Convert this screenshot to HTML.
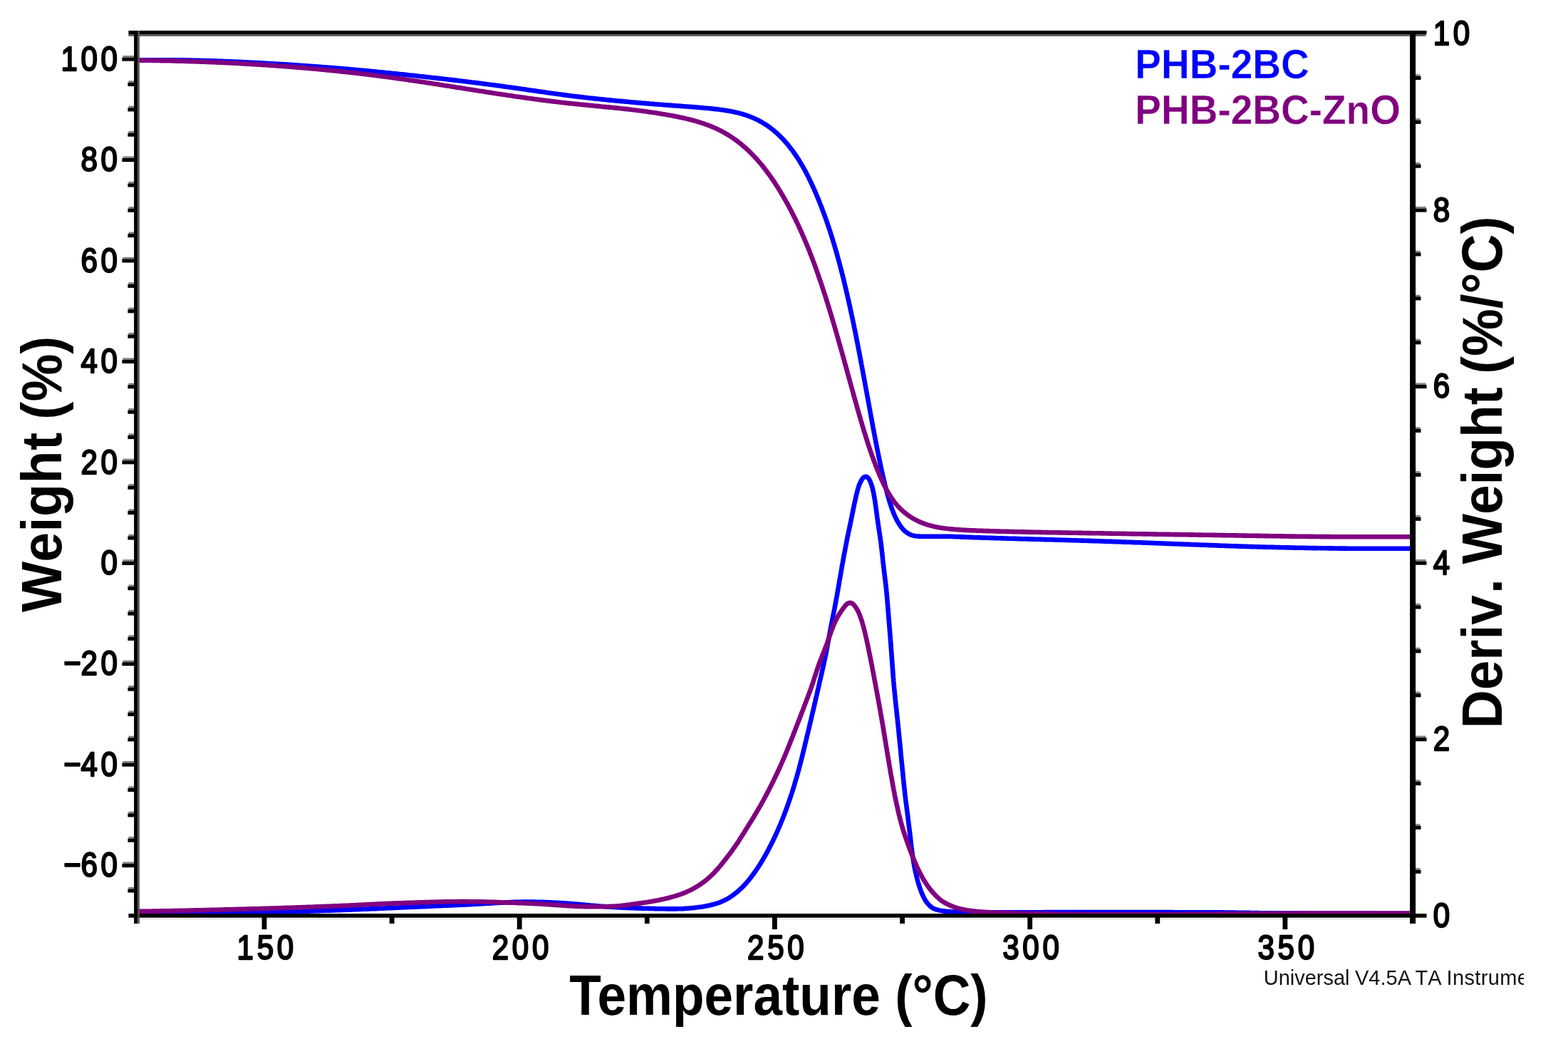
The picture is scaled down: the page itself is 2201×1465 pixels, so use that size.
<!DOCTYPE html>
<html lang="en">
<head>
<meta charset="utf-8">
<title>TGA: PHB-2BC vs PHB-2BC-ZnO</title>
<style>
html,body{margin:0;padding:0;background:#fff;}
body{width:2201px;height:1465px;overflow:hidden;}
svg{display:block;}
text{font-family:"Liberation Sans",sans-serif;}
.tick{font-weight:normal;font-size:49.5px;fill:#000;stroke:#000;stroke-width:2.35px;stroke-linejoin:round;letter-spacing:5.5px;}
.axl{font-weight:bold;font-size:75px;fill:#000;}
.leg{font-weight:bold;font-size:55px;stroke:#fff;stroke-width:0.4px;}
.foot{font-size:29px;fill:#111;font-kerning:none;}
.curve{fill:none;stroke-width:6.6;stroke-linejoin:round;stroke-linecap:butt;}
.ax{fill:none;stroke:#000;}
</style>
</head>
<body>
<svg width="2201" height="1465" viewBox="0 0 2201 1465">
<rect x="0" y="0" width="2201" height="1465" fill="#ffffff"/>
<defs><clipPath id="plot"><rect x="191.9" y="47.0" width="1791.1" height="1240.6"/></clipPath></defs>
<g clip-path="url(#plot)">
<path class="curve" stroke="#0000ff" d="M191.9,84.3 L193.9,84.3 L195.9,84.3 L197.9,84.3 L199.9,84.3 L201.9,84.3 L203.9,84.3 L205.9,84.3 L207.9,84.3 L209.9,84.3 L211.9,84.3 L213.9,84.3 L215.9,84.3 L217.9,84.3 L219.9,84.3 L221.9,84.3 L223.9,84.3 L225.9,84.3 L227.9,84.3 L229.9,84.3 L231.9,84.3 L233.9,84.3 L235.9,84.3 L237.9,84.3 L239.9,84.3 L241.9,84.3 L243.9,84.3 L245.9,84.3 L247.9,84.3 L249.9,84.3 L251.9,84.3 L253.9,84.4 L255.9,84.4 L257.9,84.4 L259.9,84.5 L261.9,84.5 L263.9,84.5 L265.9,84.6 L267.9,84.6 L269.9,84.7 L271.9,84.7 L273.9,84.8 L275.9,84.8 L277.9,84.9 L279.9,84.9 L281.9,85.0 L283.9,85.0 L285.9,85.1 L287.9,85.1 L289.9,85.2 L291.9,85.3 L293.9,85.3 L295.9,85.4 L297.9,85.4 L299.9,85.5 L301.9,85.6 L303.9,85.6 L305.9,85.7 L307.9,85.8 L309.9,85.9 L311.9,85.9 L313.9,86.0 L315.9,86.1 L317.9,86.2 L319.9,86.3 L321.9,86.3 L323.9,86.4 L325.9,86.5 L327.9,86.6 L329.9,86.7 L331.9,86.8 L333.9,86.8 L335.9,86.9 L337.9,87.0 L339.9,87.1 L341.8,87.2 L343.8,87.3 L345.8,87.4 L347.8,87.5 L349.8,87.6 L351.8,87.7 L353.8,87.8 L355.8,87.9 L357.8,88.0 L359.8,88.1 L361.8,88.2 L363.8,88.3 L365.8,88.4 L367.8,88.5 L369.8,88.6 L371.8,88.7 L373.8,88.9 L375.8,89.0 L377.8,89.1 L379.8,89.2 L381.8,89.3 L383.8,89.4 L385.8,89.5 L387.8,89.7 L389.8,89.8 L391.8,89.9 L393.8,90.0 L395.8,90.1 L397.8,90.3 L399.8,90.4 L401.8,90.5 L403.8,90.6 L405.8,90.8 L407.7,90.9 L409.7,91.0 L411.7,91.1 L413.7,91.3 L415.7,91.4 L417.7,91.5 L419.7,91.7 L421.7,91.8 L423.7,92.0 L425.7,92.1 L427.7,92.2 L429.7,92.4 L431.7,92.5 L433.7,92.7 L435.7,92.8 L437.7,93.0 L439.7,93.1 L441.7,93.2 L443.7,93.4 L445.7,93.5 L447.6,93.7 L449.6,93.8 L451.6,94.0 L453.6,94.2 L455.6,94.3 L457.6,94.5 L459.6,94.6 L461.6,94.8 L463.6,94.9 L465.6,95.1 L467.6,95.3 L469.6,95.4 L471.6,95.6 L473.6,95.8 L475.6,95.9 L477.6,96.1 L479.5,96.3 L481.5,96.4 L483.5,96.6 L485.5,96.8 L487.5,96.9 L489.5,97.1 L491.5,97.3 L493.5,97.5 L495.5,97.6 L497.5,97.8 L499.5,98.0 L501.5,98.2 L503.5,98.3 L505.4,98.5 L507.4,98.7 L509.4,98.9 L511.4,99.1 L513.4,99.3 L515.4,99.4 L517.4,99.6 L519.4,99.8 L521.4,100.0 L523.4,100.2 L525.4,100.4 L527.3,100.6 L529.3,100.8 L531.3,101.0 L533.3,101.2 L535.3,101.4 L537.3,101.6 L539.3,101.8 L541.3,102.0 L543.3,102.2 L545.3,102.4 L547.3,102.6 L549.2,102.8 L551.2,103.0 L553.2,103.2 L555.2,103.4 L557.2,103.6 L559.2,103.8 L561.2,104.0 L563.2,104.2 L565.2,104.4 L567.1,104.6 L569.1,104.8 L571.1,105.0 L573.1,105.3 L575.1,105.5 L577.1,105.7 L579.1,105.9 L581.1,106.1 L583.1,106.3 L585.0,106.5 L587.0,106.8 L589.0,107.0 L591.0,107.2 L593.0,107.4 L595.0,107.6 L597.0,107.9 L599.0,108.1 L600.9,108.3 L602.9,108.5 L604.9,108.7 L606.9,109.0 L608.9,109.2 L610.9,109.4 L612.9,109.6 L614.9,109.9 L616.8,110.1 L618.8,110.3 L620.8,110.5 L622.8,110.8 L624.8,111.0 L626.8,111.2 L628.8,111.4 L630.8,111.7 L632.7,111.9 L634.7,112.1 L636.7,112.4 L638.7,112.6 L640.7,112.8 L642.7,113.1 L644.7,113.3 L646.6,113.5 L648.6,113.8 L650.6,114.0 L652.6,114.2 L654.6,114.5 L656.6,114.7 L658.6,115.0 L660.5,115.2 L662.5,115.5 L664.5,115.7 L666.5,115.9 L668.5,116.2 L670.5,116.4 L672.5,116.7 L674.4,116.9 L676.4,117.2 L678.4,117.4 L680.4,117.7 L682.4,118.0 L684.4,118.2 L686.3,118.5 L688.3,118.7 L690.3,119.0 L692.3,119.3 L694.3,119.5 L696.3,119.8 L698.2,120.1 L700.2,120.3 L702.2,120.6 L704.2,120.9 L706.2,121.1 L708.1,121.4 L710.1,121.7 L712.1,122.0 L714.1,122.2 L716.1,122.5 L718.0,122.8 L720.0,123.1 L722.0,123.4 L724.0,123.6 L726.0,123.9 L727.9,124.2 L729.9,124.5 L731.9,124.8 L733.9,125.1 L735.9,125.3 L737.8,125.6 L739.8,125.9 L741.8,126.2 L743.8,126.5 L745.8,126.8 L747.7,127.1 L749.7,127.3 L751.7,127.6 L753.7,127.9 L755.7,128.2 L757.6,128.5 L759.6,128.8 L761.6,129.0 L763.6,129.3 L765.6,129.6 L767.5,129.9 L769.5,130.2 L771.5,130.4 L773.5,130.7 L775.5,131.0 L777.4,131.3 L779.4,131.5 L781.4,131.8 L783.4,132.1 L785.4,132.3 L787.4,132.6 L789.3,132.9 L791.3,133.1 L793.3,133.4 L795.3,133.6 L797.3,133.9 L799.3,134.2 L801.2,134.4 L803.2,134.7 L805.2,134.9 L807.2,135.2 L809.2,135.4 L811.2,135.6 L813.1,135.9 L815.1,136.1 L817.1,136.3 L819.1,136.6 L821.1,136.8 L823.1,137.0 L825.1,137.3 L827.1,137.5 L829.0,137.7 L831.0,137.9 L833.0,138.1 L835.0,138.4 L837.0,138.6 L839.0,138.8 L841.0,139.0 L843.0,139.2 L845.0,139.4 L846.9,139.6 L848.9,139.8 L850.9,140.0 L852.9,140.2 L854.9,140.4 L856.9,140.6 L858.9,140.8 L860.9,141.0 L862.9,141.2 L864.9,141.4 L866.8,141.5 L868.8,141.7 L870.8,141.9 L872.8,142.1 L874.8,142.3 L876.8,142.5 L878.8,142.6 L880.8,142.8 L882.8,143.0 L884.8,143.2 L886.8,143.4 L888.8,143.5 L890.8,143.7 L892.7,143.9 L894.7,144.1 L896.7,144.2 L898.7,144.4 L900.7,144.6 L902.7,144.7 L904.7,144.9 L906.7,145.1 L908.7,145.2 L910.7,145.4 L912.7,145.6 L914.7,145.7 L916.7,145.9 L918.7,146.1 L920.6,146.2 L922.6,146.4 L924.6,146.5 L926.6,146.7 L928.6,146.8 L930.6,147.0 L932.6,147.2 L934.6,147.3 L936.6,147.5 L938.6,147.6 L940.6,147.8 L942.6,147.9 L944.6,148.1 L946.6,148.2 L948.6,148.4 L950.6,148.5 L952.6,148.6 L954.5,148.8 L956.5,148.9 L958.5,149.1 L960.5,149.2 L962.5,149.4 L964.5,149.5 L966.5,149.7 L968.5,149.8 L970.5,150.0 L972.5,150.1 L974.5,150.3 L976.5,150.5 L978.5,150.6 L980.5,150.8 L982.5,151.0 L984.5,151.1 L986.4,151.3 L988.4,151.5 L990.4,151.7 L992.4,151.8 L994.4,152.0 L996.4,152.2 L998.4,152.4 L1000.4,152.6 L1002.4,152.9 L1004.4,153.1 L1006.3,153.3 L1008.3,153.5 L1010.3,153.8 L1012.3,154.1 L1014.3,154.3 L1016.3,154.6 L1018.2,154.9 L1020.2,155.2 L1022.2,155.6 L1024.2,155.9 L1026.1,156.3 L1028.1,156.6 L1030.0,157.0 L1032.0,157.5 L1034.0,157.9 L1035.9,158.4 L1037.8,158.9 L1039.8,159.4 L1041.7,159.9 L1043.6,160.5 L1045.5,161.1 L1047.4,161.7 L1049.3,162.4 L1051.2,163.0 L1053.1,163.8 L1054.9,164.5 L1056.8,165.3 L1058.6,166.1 L1060.4,166.9 L1062.2,167.8 L1064.0,168.6 L1065.8,169.6 L1067.5,170.5 L1069.3,171.5 L1071.0,172.5 L1072.7,173.6 L1074.4,174.6 L1076.1,175.7 L1077.7,176.8 L1079.4,178.0 L1081.0,179.2 L1082.6,180.4 L1084.2,181.6 L1085.7,182.9 L1087.3,184.1 L1088.8,185.4 L1090.3,186.8 L1091.8,188.1 L1093.2,189.5 L1094.7,190.9 L1096.1,192.3 L1097.5,193.7 L1098.9,195.1 L1100.2,196.6 L1101.6,198.1 L1102.9,199.6 L1104.2,201.1 L1105.5,202.6 L1106.8,204.2 L1108.0,205.7 L1109.3,207.3 L1110.5,208.9 L1111.7,210.5 L1112.9,212.1 L1114.1,213.7 L1115.2,215.3 L1116.4,217.0 L1117.5,218.6 L1118.6,220.3 L1119.7,222.0 L1120.8,223.6 L1121.8,225.3 L1122.9,227.0 L1123.9,228.8 L1124.9,230.5 L1125.9,232.2 L1126.9,233.9 L1127.9,235.7 L1128.9,237.4 L1129.9,239.2 L1130.8,240.9 L1131.7,242.7 L1132.7,244.5 L1133.6,246.3 L1134.5,248.0 L1135.4,249.8 L1136.2,251.6 L1137.1,253.4 L1138.0,255.2 L1138.8,257.0 L1139.7,258.9 L1140.5,260.7 L1141.3,262.5 L1142.2,264.3 L1143.0,266.1 L1143.8,268.0 L1144.6,269.8 L1145.4,271.6 L1146.1,273.5 L1146.9,275.3 L1147.7,277.2 L1148.5,279.0 L1149.2,280.9 L1150.0,282.7 L1150.7,284.6 L1151.4,286.5 L1152.2,288.3 L1152.9,290.2 L1153.6,292.0 L1154.3,293.9 L1155.0,295.8 L1155.7,297.7 L1156.4,299.5 L1157.1,301.4 L1157.8,303.3 L1158.5,305.2 L1159.2,307.1 L1159.8,308.9 L1160.5,310.8 L1161.1,312.7 L1161.8,314.6 L1162.4,316.5 L1163.1,318.4 L1163.7,320.3 L1164.3,322.2 L1165.0,324.1 L1165.6,326.0 L1166.2,327.9 L1166.8,329.8 L1167.4,331.7 L1168.0,333.6 L1168.6,335.5 L1169.2,337.4 L1169.7,339.4 L1170.3,341.3 L1170.9,343.2 L1171.5,345.1 L1172.0,347.0 L1172.6,348.9 L1173.2,350.9 L1173.7,352.8 L1174.3,354.7 L1174.8,356.6 L1175.3,358.6 L1175.9,360.5 L1176.4,362.4 L1176.9,364.3 L1177.5,366.3 L1178.0,368.2 L1178.5,370.1 L1179.0,372.1 L1179.5,374.0 L1180.0,375.9 L1180.5,377.9 L1181.0,379.8 L1181.5,381.7 L1182.0,383.7 L1182.5,385.6 L1183.0,387.6 L1183.5,389.5 L1184.0,391.4 L1184.4,393.4 L1184.9,395.3 L1185.4,397.3 L1185.8,399.2 L1186.3,401.2 L1186.8,403.1 L1187.2,405.1 L1187.7,407.0 L1188.1,409.0 L1188.6,410.9 L1189.0,412.8 L1189.5,414.8 L1189.9,416.7 L1190.4,418.7 L1190.8,420.7 L1191.3,422.6 L1191.7,424.6 L1192.1,426.5 L1192.6,428.5 L1193.0,430.4 L1193.4,432.4 L1193.8,434.3 L1194.3,436.3 L1194.7,438.2 L1195.1,440.2 L1195.5,442.1 L1195.9,444.1 L1196.4,446.1 L1196.8,448.0 L1197.2,450.0 L1197.6,451.9 L1198.0,453.9 L1198.4,455.8 L1198.8,457.8 L1199.2,459.8 L1199.6,461.7 L1200.0,463.7 L1200.4,465.6 L1200.8,467.6 L1201.2,469.6 L1201.6,471.5 L1202.0,473.5 L1202.3,475.5 L1202.7,477.4 L1203.1,479.4 L1203.5,481.3 L1203.9,483.3 L1204.3,485.3 L1204.6,487.2 L1205.0,489.2 L1205.4,491.2 L1205.8,493.1 L1206.2,495.1 L1206.5,497.0 L1206.9,499.0 L1207.3,501.0 L1207.7,502.9 L1208.0,504.9 L1208.4,506.9 L1208.8,508.8 L1209.1,510.8 L1209.5,512.8 L1209.9,514.7 L1210.2,516.7 L1210.6,518.7 L1211.0,520.6 L1211.3,522.6 L1211.7,524.6 L1212.1,526.5 L1212.4,528.5 L1212.8,530.5 L1213.2,532.4 L1213.5,534.4 L1213.9,536.4 L1214.3,538.3 L1214.6,540.3 L1215.0,542.3 L1215.3,544.2 L1215.7,546.2 L1216.1,548.2 L1216.4,550.1 L1216.8,552.1 L1217.1,554.1 L1217.5,556.0 L1217.9,558.0 L1218.2,560.0 L1218.6,561.9 L1218.9,563.9 L1219.3,565.9 L1219.7,567.8 L1220.0,569.8 L1220.4,571.8 L1220.7,573.7 L1221.1,575.7 L1221.5,577.7 L1221.8,579.6 L1222.2,581.6 L1222.5,583.6 L1222.9,585.5 L1223.3,587.5 L1223.6,589.5 L1224.0,591.4 L1224.3,593.4 L1224.7,595.4 L1225.1,597.3 L1225.4,599.3 L1225.8,601.3 L1226.2,603.2 L1226.5,605.2 L1226.9,607.2 L1227.3,609.1 L1227.7,611.1 L1228.0,613.1 L1228.4,615.0 L1228.8,617.0 L1229.2,619.0 L1229.5,620.9 L1229.9,622.9 L1230.3,624.9 L1230.7,626.8 L1231.1,628.8 L1231.5,630.7 L1231.9,632.7 L1232.3,634.7 L1232.7,636.6 L1233.1,638.6 L1233.5,640.5 L1233.9,642.5 L1234.3,644.5 L1234.7,646.4 L1235.1,648.4 L1235.5,650.3 L1235.9,652.3 L1236.3,654.2 L1236.7,656.2 L1237.2,658.2 L1237.6,660.1 L1238.0,662.1 L1238.5,664.0 L1238.9,666.0 L1239.4,667.9 L1239.8,669.9 L1240.3,671.8 L1240.7,673.8 L1241.2,675.7 L1241.6,677.6 L1242.1,679.6 L1242.6,681.5 L1243.1,683.5 L1243.6,685.4 L1244.1,687.4 L1244.6,689.3 L1245.1,691.2 L1245.6,693.2 L1246.1,695.1 L1246.7,697.0 L1247.2,698.9 L1247.8,700.8 L1248.3,702.8 L1248.9,704.7 L1249.5,706.6 L1250.2,708.5 L1250.8,710.4 L1251.4,712.3 L1252.1,714.2 L1252.8,716.0 L1253.5,717.9 L1254.3,719.8 L1255.0,721.6 L1255.8,723.4 L1256.7,725.3 L1257.5,727.1 L1258.4,728.9 L1259.3,730.6 L1260.3,732.4 L1261.3,734.1 L1262.4,735.8 L1263.5,737.5 L1264.6,739.1 L1265.8,740.7 L1267.1,742.2 L1268.5,743.7 L1269.9,745.1 L1271.5,746.3 L1273.1,747.5 L1274.8,748.6 L1276.5,749.6 L1278.3,750.4 L1280.2,751.1 L1282.2,751.6 L1284.1,752.0 L1286.1,752.3 L1288.1,752.5 L1290.1,752.6 L1292.1,752.7 L1294.1,752.7 L1296.1,752.8 L1298.1,752.8 L1300.1,752.8 L1302.1,752.8 L1304.1,752.8 L1306.1,752.8 L1308.1,752.8 L1310.1,752.8 L1312.1,752.8 L1314.1,752.8 L1316.1,752.8 L1318.1,752.8 L1320.1,752.8 L1322.1,752.8 L1324.1,752.8 L1326.1,752.8 L1328.1,752.8 L1330.1,752.8 L1332.1,752.8 L1334.1,752.8 L1336.1,752.9 L1338.1,753.0 L1340.1,753.1 L1342.1,753.2 L1344.1,753.3 L1346.1,753.3 L1348.1,753.4 L1350.1,753.5 L1352.1,753.6 L1354.1,753.6 L1356.1,753.7 L1358.1,753.8 L1360.1,753.9 L1362.1,753.9 L1364.0,754.0 L1366.0,754.1 L1368.0,754.2 L1370.0,754.2 L1372.0,754.3 L1374.0,754.4 L1376.0,754.4 L1378.0,754.5 L1380.0,754.6 L1382.0,754.6 L1384.0,754.7 L1386.0,754.8 L1388.0,754.8 L1390.0,754.9 L1392.0,754.9 L1394.0,755.0 L1396.0,755.1 L1398.0,755.1 L1400.0,755.2 L1402.0,755.2 L1404.0,755.3 L1406.0,755.4 L1408.0,755.4 L1410.0,755.5 L1412.0,755.5 L1414.0,755.6 L1416.0,755.7 L1418.0,755.7 L1420.0,755.8 L1422.0,755.8 L1424.0,755.9 L1426.0,755.9 L1428.0,756.0 L1430.0,756.1 L1432.0,756.1 L1434.0,756.2 L1436.0,756.2 L1438.0,756.3 L1440.0,756.3 L1442.0,756.4 L1444.0,756.4 L1446.0,756.5 L1448.0,756.6 L1450.0,756.6 L1452.0,756.7 L1454.0,756.7 L1456.0,756.8 L1458.0,756.8 L1460.0,756.9 L1462.0,756.9 L1464.0,757.0 L1466.0,757.1 L1468.0,757.1 L1470.0,757.2 L1472.0,757.2 L1474.0,757.3 L1476.0,757.3 L1478.0,757.4 L1480.0,757.5 L1482.0,757.5 L1484.0,757.6 L1486.0,757.6 L1488.0,757.7 L1490.0,757.7 L1492.0,757.8 L1494.0,757.9 L1496.0,757.9 L1498.0,758.0 L1500.0,758.0 L1502.0,758.1 L1504.0,758.2 L1506.0,758.2 L1508.0,758.3 L1510.0,758.3 L1512.0,758.4 L1514.0,758.5 L1516.0,758.5 L1518.0,758.6 L1520.0,758.6 L1522.0,758.7 L1524.0,758.8 L1526.0,758.8 L1528.0,758.9 L1530.0,758.9 L1532.0,759.0 L1534.0,759.1 L1536.0,759.1 L1538.0,759.2 L1540.0,759.3 L1542.0,759.3 L1544.0,759.4 L1546.0,759.5 L1548.0,759.5 L1550.0,759.6 L1552.0,759.7 L1554.0,759.7 L1556.0,759.8 L1558.0,759.9 L1560.0,759.9 L1562.0,760.0 L1564.0,760.1 L1566.0,760.1 L1568.0,760.2 L1570.0,760.3 L1572.0,760.3 L1574.0,760.4 L1575.9,760.5 L1577.9,760.6 L1579.9,760.6 L1581.9,760.7 L1583.9,760.8 L1585.9,760.8 L1587.9,760.9 L1589.9,761.0 L1591.9,761.1 L1593.9,761.1 L1595.9,761.2 L1597.9,761.3 L1599.9,761.3 L1601.9,761.4 L1603.9,761.5 L1605.9,761.6 L1607.9,761.6 L1609.9,761.7 L1611.9,761.8 L1613.9,761.9 L1615.9,761.9 L1617.9,762.0 L1619.9,762.1 L1621.9,762.2 L1623.9,762.2 L1625.9,762.3 L1627.9,762.4 L1629.9,762.5 L1631.9,762.5 L1633.9,762.6 L1635.9,762.7 L1637.9,762.8 L1639.9,762.9 L1641.9,762.9 L1643.9,763.0 L1645.9,763.1 L1647.9,763.2 L1649.9,763.2 L1651.9,763.3 L1653.9,763.4 L1655.9,763.5 L1657.9,763.5 L1659.9,763.6 L1661.9,763.7 L1663.9,763.8 L1665.9,763.9 L1667.9,763.9 L1669.9,764.0 L1671.9,764.1 L1673.9,764.2 L1675.9,764.2 L1677.9,764.3 L1679.9,764.4 L1681.9,764.5 L1683.9,764.5 L1685.9,764.6 L1687.9,764.7 L1689.9,764.8 L1691.9,764.8 L1693.9,764.9 L1695.9,765.0 L1697.9,765.1 L1699.9,765.1 L1701.9,765.2 L1703.9,765.3 L1705.9,765.4 L1707.9,765.4 L1709.9,765.5 L1711.9,765.6 L1713.9,765.7 L1715.9,765.7 L1717.8,765.8 L1719.8,765.9 L1721.8,766.0 L1723.8,766.0 L1725.8,766.1 L1727.8,766.2 L1729.8,766.2 L1731.8,766.3 L1733.8,766.4 L1735.8,766.4 L1737.8,766.5 L1739.8,766.6 L1741.8,766.6 L1743.8,766.7 L1745.8,766.8 L1747.8,766.8 L1749.8,766.9 L1751.8,767.0 L1753.8,767.0 L1755.8,767.1 L1757.8,767.1 L1759.8,767.2 L1761.8,767.3 L1763.8,767.3 L1765.8,767.4 L1767.8,767.4 L1769.8,767.5 L1771.8,767.5 L1773.8,767.6 L1775.8,767.6 L1777.8,767.7 L1779.8,767.7 L1781.8,767.8 L1783.8,767.8 L1785.8,767.9 L1787.8,767.9 L1789.8,768.0 L1791.8,768.0 L1793.8,768.1 L1795.8,768.1 L1797.8,768.2 L1799.8,768.2 L1801.8,768.3 L1803.8,768.3 L1805.8,768.4 L1807.8,768.4 L1809.8,768.4 L1811.8,768.5 L1813.8,768.5 L1815.8,768.6 L1817.8,768.6 L1819.8,768.7 L1821.8,768.7 L1823.8,768.7 L1825.8,768.8 L1827.8,768.8 L1829.8,768.8 L1831.8,768.9 L1833.8,768.9 L1835.8,769.0 L1837.8,769.0 L1839.8,769.0 L1841.8,769.1 L1843.8,769.1 L1845.8,769.1 L1847.8,769.1 L1849.8,769.2 L1851.8,769.2 L1853.8,769.2 L1855.8,769.3 L1857.8,769.3 L1859.8,769.3 L1861.8,769.3 L1863.8,769.4 L1865.8,769.4 L1867.8,769.4 L1869.8,769.4 L1871.8,769.5 L1873.8,769.5 L1875.8,769.5 L1877.8,769.5 L1879.8,769.6 L1881.8,769.6 L1883.8,769.6 L1885.8,769.6 L1887.8,769.6 L1889.8,769.6 L1891.8,769.7 L1893.8,769.7 L1895.8,769.7 L1897.8,769.7 L1899.8,769.7 L1901.8,769.7 L1903.8,769.7 L1905.8,769.8 L1907.8,769.8 L1909.8,769.8 L1911.8,769.8 L1913.8,769.8 L1915.8,769.8 L1917.8,769.8 L1919.8,769.8 L1921.8,769.8 L1923.8,769.8 L1925.8,769.8 L1927.8,769.8 L1929.8,769.8 L1931.8,769.8 L1933.8,769.8 L1935.8,769.8 L1937.8,769.8 L1939.8,769.8 L1941.8,769.8 L1943.8,769.8 L1945.8,769.8 L1947.8,769.8 L1949.8,769.8 L1951.8,769.8 L1953.8,769.8 L1955.8,769.8 L1957.8,769.8 L1959.8,769.8 L1961.8,769.8 L1963.8,769.8 L1965.8,769.8 L1967.8,769.8 L1969.8,769.8 L1971.8,769.8 L1973.8,769.8 L1975.8,769.8 L1977.8,769.8 L1979.8,769.8 L1981.8,769.8 L1983.4,769.8"/>
<path class="curve" stroke="#0000ff" d="M159.2,1281.0 L160.3,1281.0 L161.5,1281.0 L163.0,1281.0 L164.5,1281.0 L166.2,1281.0 L168.0,1281.0 L169.8,1281.0 L171.7,1281.0 L173.7,1281.0 L175.6,1281.0 L177.6,1281.0 L179.6,1281.0 L181.6,1281.0 L183.6,1281.0 L185.6,1281.0 L187.6,1281.0 L189.6,1281.0 L191.6,1281.0 L193.6,1281.0 L195.6,1281.0 L197.6,1281.0 L199.6,1281.0 L201.6,1281.0 L203.6,1281.0 L205.6,1281.0 L207.6,1281.0 L209.6,1281.0 L211.6,1281.0 L213.6,1281.0 L215.6,1281.0 L217.6,1281.0 L219.6,1281.0 L221.6,1281.0 L223.6,1281.0 L225.6,1281.0 L227.6,1280.9 L229.6,1280.9 L231.6,1280.9 L233.6,1280.9 L235.6,1280.9 L237.6,1280.9 L239.6,1280.9 L241.6,1280.9 L243.6,1280.9 L245.6,1280.9 L247.6,1280.9 L249.6,1280.9 L251.6,1280.9 L253.6,1280.9 L255.6,1280.8 L257.6,1280.8 L259.6,1280.8 L261.6,1280.8 L263.6,1280.8 L265.6,1280.8 L267.6,1280.8 L269.6,1280.8 L271.6,1280.8 L273.6,1280.8 L275.6,1280.7 L277.6,1280.7 L279.6,1280.7 L281.6,1280.7 L283.6,1280.7 L285.6,1280.7 L287.6,1280.7 L289.6,1280.7 L291.6,1280.7 L293.6,1280.6 L295.6,1280.6 L297.6,1280.6 L299.6,1280.6 L301.6,1280.6 L303.6,1280.6 L305.6,1280.6 L307.6,1280.5 L309.6,1280.5 L311.6,1280.5 L313.6,1280.5 L315.6,1280.5 L317.6,1280.5 L319.6,1280.5 L321.6,1280.4 L323.6,1280.4 L325.6,1280.4 L327.6,1280.4 L329.6,1280.4 L331.6,1280.4 L333.6,1280.3 L335.6,1280.3 L337.6,1280.3 L339.6,1280.3 L341.6,1280.3 L343.6,1280.3 L345.6,1280.2 L347.6,1280.2 L349.6,1280.2 L351.6,1280.2 L353.6,1280.2 L355.6,1280.1 L357.6,1280.1 L359.6,1280.1 L361.6,1280.1 L363.6,1280.1 L365.6,1280.0 L367.6,1280.0 L369.6,1280.0 L371.6,1280.0 L373.6,1280.0 L375.6,1279.9 L377.6,1279.9 L379.6,1279.9 L381.6,1279.8 L383.6,1279.8 L385.6,1279.8 L387.6,1279.7 L389.6,1279.7 L391.6,1279.7 L393.6,1279.6 L395.6,1279.6 L397.6,1279.5 L399.6,1279.5 L401.6,1279.5 L403.6,1279.4 L405.6,1279.4 L407.6,1279.3 L409.6,1279.3 L411.6,1279.2 L413.6,1279.2 L415.6,1279.1 L417.6,1279.0 L419.6,1279.0 L421.6,1278.9 L423.6,1278.9 L425.6,1278.8 L427.6,1278.8 L429.6,1278.7 L431.6,1278.6 L433.6,1278.6 L435.6,1278.5 L437.6,1278.4 L439.6,1278.4 L441.6,1278.3 L443.6,1278.2 L445.6,1278.2 L447.6,1278.1 L449.6,1278.0 L451.6,1278.0 L453.6,1277.9 L455.6,1277.8 L457.6,1277.8 L459.6,1277.7 L461.6,1277.6 L463.6,1277.6 L465.6,1277.5 L467.6,1277.4 L469.6,1277.4 L471.6,1277.3 L473.6,1277.2 L475.6,1277.1 L477.6,1277.1 L479.6,1277.0 L481.6,1276.9 L483.6,1276.9 L485.6,1276.8 L487.6,1276.7 L489.6,1276.6 L491.6,1276.6 L493.6,1276.5 L495.6,1276.4 L497.6,1276.3 L499.6,1276.3 L501.6,1276.2 L503.6,1276.1 L505.6,1276.0 L507.6,1275.9 L509.6,1275.8 L511.6,1275.8 L513.6,1275.7 L515.6,1275.6 L517.6,1275.5 L519.6,1275.4 L521.6,1275.3 L523.6,1275.2 L525.6,1275.1 L527.6,1275.1 L529.6,1275.0 L531.6,1274.9 L533.6,1274.8 L535.5,1274.7 L537.5,1274.6 L539.5,1274.5 L541.5,1274.4 L543.5,1274.3 L545.5,1274.2 L547.5,1274.2 L549.5,1274.1 L551.5,1274.0 L553.5,1273.9 L555.5,1273.8 L557.5,1273.7 L559.5,1273.6 L561.5,1273.5 L563.5,1273.4 L565.5,1273.4 L567.5,1273.3 L569.5,1273.2 L571.5,1273.1 L573.5,1273.0 L575.5,1272.9 L577.5,1272.8 L579.5,1272.8 L581.5,1272.7 L583.5,1272.6 L585.5,1272.5 L587.5,1272.4 L589.5,1272.3 L591.5,1272.2 L593.5,1272.1 L595.5,1272.1 L597.5,1272.0 L599.5,1271.9 L601.5,1271.8 L603.5,1271.7 L605.5,1271.6 L607.5,1271.5 L609.5,1271.4 L611.5,1271.3 L613.5,1271.3 L615.5,1271.2 L617.5,1271.1 L619.5,1271.0 L621.5,1270.9 L623.5,1270.8 L625.5,1270.7 L627.5,1270.6 L629.5,1270.6 L631.5,1270.5 L633.5,1270.4 L635.5,1270.3 L637.5,1270.2 L639.5,1270.1 L641.5,1270.0 L643.5,1269.9 L645.5,1269.8 L647.5,1269.7 L649.5,1269.7 L651.5,1269.6 L653.4,1269.5 L655.4,1269.4 L657.4,1269.3 L659.4,1269.2 L661.4,1269.1 L663.4,1268.9 L665.4,1268.8 L667.4,1268.7 L669.4,1268.6 L671.4,1268.5 L673.4,1268.4 L675.4,1268.3 L677.4,1268.2 L679.4,1268.0 L681.4,1267.9 L683.4,1267.8 L685.4,1267.7 L687.4,1267.6 L689.4,1267.5 L691.4,1267.3 L693.4,1267.2 L695.4,1267.1 L697.4,1267.0 L699.4,1266.9 L701.4,1266.8 L703.4,1266.7 L705.4,1266.6 L707.4,1266.5 L709.4,1266.4 L711.4,1266.3 L713.4,1266.2 L715.4,1266.1 L717.4,1266.1 L719.4,1266.0 L721.4,1265.9 L723.4,1265.9 L725.4,1265.8 L727.4,1265.8 L729.4,1265.7 L731.4,1265.7 L733.4,1265.6 L735.4,1265.6 L737.4,1265.6 L739.4,1265.6 L741.4,1265.6 L743.4,1265.6 L745.4,1265.6 L747.4,1265.6 L749.4,1265.6 L751.4,1265.7 L753.4,1265.7 L755.4,1265.8 L757.4,1265.8 L759.4,1265.9 L761.4,1265.9 L763.4,1266.0 L765.4,1266.1 L767.4,1266.1 L769.4,1266.2 L771.4,1266.3 L773.4,1266.4 L775.4,1266.5 L777.4,1266.6 L779.4,1266.7 L781.4,1266.8 L783.4,1266.9 L785.4,1267.0 L787.3,1267.1 L789.3,1267.2 L791.3,1267.4 L793.3,1267.5 L795.3,1267.6 L797.3,1267.7 L799.3,1267.9 L801.3,1268.0 L803.3,1268.2 L805.3,1268.4 L807.3,1268.5 L809.3,1268.7 L811.3,1268.9 L813.3,1269.1 L815.3,1269.3 L817.3,1269.5 L819.2,1269.6 L821.2,1269.8 L823.2,1270.0 L825.2,1270.2 L827.2,1270.4 L829.2,1270.6 L831.2,1270.7 L833.2,1270.9 L835.2,1271.1 L837.2,1271.2 L839.2,1271.4 L841.2,1271.5 L843.2,1271.7 L845.2,1271.8 L847.2,1272.0 L849.2,1272.1 L851.1,1272.2 L853.1,1272.4 L855.1,1272.5 L857.1,1272.6 L859.1,1272.8 L861.1,1272.9 L863.1,1273.0 L865.1,1273.1 L867.1,1273.2 L869.1,1273.4 L871.1,1273.5 L873.1,1273.6 L875.1,1273.7 L877.1,1273.8 L879.1,1273.9 L881.1,1273.9 L883.1,1274.0 L885.1,1274.1 L887.1,1274.2 L889.1,1274.2 L891.1,1274.3 L893.1,1274.4 L895.1,1274.4 L897.1,1274.5 L899.1,1274.6 L901.1,1274.6 L903.1,1274.7 L905.1,1274.7 L907.1,1274.8 L909.1,1274.8 L911.1,1274.9 L913.1,1274.9 L915.1,1275.0 L917.1,1275.0 L919.1,1275.1 L921.1,1275.1 L923.1,1275.2 L925.1,1275.2 L927.1,1275.2 L929.1,1275.3 L931.1,1275.3 L933.1,1275.3 L935.1,1275.4 L937.1,1275.4 L939.1,1275.4 L941.1,1275.4 L943.1,1275.4 L945.1,1275.4 L947.1,1275.4 L949.1,1275.4 L951.1,1275.3 L953.1,1275.3 L955.1,1275.2 L957.1,1275.2 L959.1,1275.1 L961.1,1274.9 L963.1,1274.8 L965.1,1274.7 L967.1,1274.5 L969.1,1274.3 L971.1,1274.2 L973.1,1274.0 L975.1,1273.7 L977.1,1273.5 L979.0,1273.3 L981.0,1273.0 L983.0,1272.8 L985.0,1272.5 L987.0,1272.2 L988.9,1271.8 L990.9,1271.5 L992.9,1271.1 L994.8,1270.7 L996.8,1270.3 L998.7,1269.8 L1000.7,1269.3 L1002.6,1268.8 L1004.5,1268.2 L1006.4,1267.6 L1008.3,1267.0 L1010.2,1266.3 L1012.0,1265.6 L1013.8,1264.8 L1015.6,1264.0 L1017.4,1263.1 L1019.2,1262.2 L1020.9,1261.3 L1022.7,1260.3 L1024.4,1259.2 L1026.0,1258.1 L1027.7,1257.0 L1029.3,1255.8 L1030.9,1254.6 L1032.5,1253.4 L1034.1,1252.2 L1035.6,1250.9 L1037.1,1249.6 L1038.6,1248.2 L1040.0,1246.9 L1041.5,1245.5 L1042.9,1244.1 L1044.3,1242.7 L1045.6,1241.2 L1047.0,1239.7 L1048.3,1238.2 L1049.6,1236.7 L1050.9,1235.1 L1052.1,1233.6 L1053.4,1232.0 L1054.6,1230.4 L1055.8,1228.8 L1057.0,1227.2 L1058.2,1225.5 L1059.4,1223.9 L1060.5,1222.3 L1061.7,1220.6 L1062.8,1219.0 L1063.9,1217.3 L1065.0,1215.6 L1066.1,1214.0 L1067.1,1212.3 L1068.2,1210.6 L1069.2,1208.9 L1070.3,1207.2 L1071.3,1205.4 L1072.3,1203.7 L1073.3,1202.0 L1074.3,1200.2 L1075.3,1198.5 L1076.2,1196.7 L1077.2,1195.0 L1078.1,1193.2 L1079.1,1191.4 L1080.0,1189.6 L1080.9,1187.8 L1081.8,1186.1 L1082.7,1184.3 L1083.6,1182.5 L1084.5,1180.7 L1085.4,1178.9 L1086.3,1177.1 L1087.1,1175.3 L1088.0,1173.5 L1088.8,1171.6 L1089.7,1169.8 L1090.5,1168.0 L1091.3,1166.2 L1092.1,1164.4 L1092.9,1162.5 L1093.7,1160.7 L1094.5,1158.8 L1095.3,1157.0 L1096.0,1155.2 L1096.8,1153.3 L1097.6,1151.4 L1098.3,1149.6 L1099.0,1147.7 L1099.8,1145.9 L1100.5,1144.0 L1101.2,1142.1 L1101.9,1140.3 L1102.6,1138.4 L1103.3,1136.5 L1104.0,1134.6 L1104.7,1132.8 L1105.4,1130.9 L1106.0,1129.0 L1106.7,1127.1 L1107.4,1125.2 L1108.0,1123.3 L1108.6,1121.4 L1109.3,1119.5 L1109.9,1117.6 L1110.5,1115.7 L1111.2,1113.8 L1111.8,1111.9 L1112.4,1110.0 L1113.0,1108.1 L1113.6,1106.2 L1114.2,1104.3 L1114.8,1102.4 L1115.3,1100.5 L1115.9,1098.5 L1116.5,1096.6 L1117.0,1094.7 L1117.6,1092.8 L1118.2,1090.9 L1118.7,1088.9 L1119.3,1087.0 L1119.8,1085.1 L1120.3,1083.2 L1120.9,1081.2 L1121.4,1079.3 L1121.9,1077.4 L1122.4,1075.4 L1122.9,1073.5 L1123.4,1071.6 L1123.9,1069.6 L1124.4,1067.7 L1124.9,1065.8 L1125.4,1063.8 L1125.9,1061.9 L1126.4,1059.9 L1126.8,1058.0 L1127.3,1056.0 L1127.8,1054.1 L1128.3,1052.2 L1128.7,1050.2 L1129.2,1048.3 L1129.7,1046.3 L1130.1,1044.4 L1130.6,1042.4 L1131.1,1040.5 L1131.5,1038.5 L1132.0,1036.6 L1132.5,1034.6 L1132.9,1032.7 L1133.4,1030.8 L1133.9,1028.8 L1134.3,1026.9 L1134.8,1024.9 L1135.3,1023.0 L1135.7,1021.0 L1136.2,1019.1 L1136.6,1017.1 L1137.1,1015.2 L1137.6,1013.2 L1138.0,1011.3 L1138.5,1009.3 L1138.9,1007.4 L1139.4,1005.4 L1139.8,1003.5 L1140.3,1001.6 L1140.7,999.6 L1141.2,997.7 L1141.7,995.7 L1142.1,993.8 L1142.6,991.8 L1143.0,989.9 L1143.5,987.9 L1143.9,986.0 L1144.4,984.0 L1144.8,982.1 L1145.3,980.1 L1145.7,978.2 L1146.2,976.2 L1146.6,974.3 L1147.1,972.3 L1147.5,970.4 L1148.0,968.4 L1148.4,966.5 L1148.9,964.5 L1149.3,962.6 L1149.8,960.6 L1150.2,958.7 L1150.6,956.7 L1151.1,954.8 L1151.5,952.8 L1152.0,950.9 L1152.4,948.9 L1152.9,947.0 L1153.3,945.0 L1153.8,943.1 L1154.2,941.1 L1154.6,939.2 L1155.1,937.2 L1155.5,935.3 L1155.9,933.3 L1156.4,931.4 L1156.8,929.4 L1157.2,927.4 L1157.6,925.5 L1158.1,923.5 L1158.5,921.6 L1158.9,919.6 L1159.3,917.7 L1159.7,915.7 L1160.0,913.7 L1160.4,911.8 L1160.8,909.8 L1161.2,907.8 L1161.5,905.9 L1161.9,903.9 L1162.3,901.9 L1162.6,900.0 L1163.0,898.0 L1163.3,896.0 L1163.7,894.1 L1164.0,892.1 L1164.4,890.1 L1164.8,888.2 L1165.1,886.2 L1165.5,884.2 L1165.9,882.3 L1166.2,880.3 L1166.6,878.3 L1167.0,876.4 L1167.4,874.4 L1167.8,872.4 L1168.1,870.5 L1168.5,868.5 L1168.9,866.6 L1169.3,864.6 L1169.7,862.6 L1170.1,860.7 L1170.5,858.7 L1170.9,856.8 L1171.3,854.8 L1171.6,852.8 L1172.0,850.9 L1172.4,848.9 L1172.8,846.9 L1173.1,845.0 L1173.5,843.0 L1173.8,841.0 L1174.2,839.1 L1174.6,837.1 L1174.9,835.1 L1175.3,833.2 L1175.6,831.2 L1176.0,829.2 L1176.3,827.2 L1176.6,825.3 L1177.0,823.3 L1177.3,821.3 L1177.7,819.4 L1178.0,817.4 L1178.3,815.4 L1178.7,813.4 L1179.0,811.5 L1179.4,809.5 L1179.7,807.5 L1180.0,805.6 L1180.4,803.6 L1180.7,801.6 L1181.1,799.6 L1181.4,797.7 L1181.7,795.7 L1182.1,793.7 L1182.4,791.8 L1182.8,789.8 L1183.2,787.8 L1183.5,785.9 L1183.9,783.9 L1184.2,781.9 L1184.6,780.0 L1184.9,778.0 L1185.3,776.0 L1185.7,774.1 L1186.1,772.1 L1186.4,770.1 L1186.8,768.2 L1187.2,766.2 L1187.6,764.2 L1188.0,762.3 L1188.3,760.3 L1188.7,758.4 L1189.1,756.4 L1189.5,754.4 L1189.9,752.5 L1190.3,750.5 L1190.7,748.6 L1191.1,746.6 L1191.5,744.6 L1192.0,742.7 L1192.4,740.7 L1192.8,738.8 L1193.2,736.8 L1193.6,734.8 L1194.0,732.9 L1194.4,730.9 L1194.8,729.0 L1195.2,727.0 L1195.6,725.0 L1196.0,723.1 L1196.4,721.1 L1196.8,719.2 L1197.2,717.2 L1197.6,715.2 L1198.0,713.3 L1198.4,711.3 L1198.8,709.4 L1199.2,707.4 L1199.6,705.5 L1200.1,703.5 L1200.5,701.5 L1201.0,699.6 L1201.4,697.6 L1201.8,695.7 L1202.3,693.7 L1202.8,691.8 L1203.3,689.8 L1203.8,687.9 L1204.3,686.0 L1204.9,684.1 L1205.5,682.2 L1206.2,680.3 L1206.9,678.4 L1207.8,676.6 L1208.7,674.9 L1209.6,673.2 L1210.7,671.5 L1212.1,670.0 L1213.8,669.0 L1215.7,668.8 L1217.5,669.7 L1219.0,671.0 L1220.1,672.8 L1221.0,674.5 L1221.8,676.3 L1222.5,678.1 L1223.2,680.0 L1223.8,681.9 L1224.4,683.8 L1224.9,685.7 L1225.3,687.7 L1225.7,689.6 L1226.2,691.6 L1226.5,693.5 L1226.9,695.5 L1227.3,697.5 L1227.6,699.5 L1227.9,701.4 L1228.3,703.4 L1228.6,705.4 L1228.8,707.4 L1229.1,709.4 L1229.4,711.3 L1229.7,713.3 L1229.9,715.3 L1230.2,717.3 L1230.4,719.3 L1230.7,721.3 L1231.0,723.2 L1231.2,725.2 L1231.5,727.2 L1231.8,729.2 L1232.1,731.2 L1232.3,733.1 L1232.6,735.1 L1232.9,737.1 L1233.2,739.1 L1233.5,741.1 L1233.8,743.0 L1234.1,745.0 L1234.4,747.0 L1234.7,749.0 L1235.0,750.9 L1235.3,752.9 L1235.6,754.9 L1235.9,756.9 L1236.1,758.9 L1236.4,760.8 L1236.7,762.8 L1236.9,764.8 L1237.1,766.8 L1237.4,768.8 L1237.6,770.8 L1237.8,772.8 L1238.0,774.8 L1238.3,776.7 L1238.5,778.7 L1238.7,780.7 L1238.9,782.7 L1239.1,784.7 L1239.3,786.7 L1239.5,788.7 L1239.8,790.7 L1240.0,792.7 L1240.2,794.6 L1240.4,796.6 L1240.7,798.6 L1240.9,800.6 L1241.2,802.6 L1241.4,804.6 L1241.7,806.6 L1241.9,808.5 L1242.1,810.5 L1242.4,812.5 L1242.6,814.5 L1242.9,816.5 L1243.1,818.5 L1243.3,820.5 L1243.6,822.4 L1243.8,824.4 L1244.0,826.4 L1244.2,828.4 L1244.4,830.4 L1244.6,832.4 L1244.8,834.4 L1244.9,836.4 L1245.1,838.4 L1245.3,840.4 L1245.5,842.3 L1245.6,844.3 L1245.8,846.3 L1246.0,848.3 L1246.1,850.3 L1246.3,852.3 L1246.4,854.3 L1246.6,856.3 L1246.8,858.3 L1246.9,860.3 L1247.1,862.3 L1247.3,864.3 L1247.4,866.3 L1247.6,868.3 L1247.7,870.3 L1247.9,872.3 L1248.1,874.2 L1248.2,876.2 L1248.4,878.2 L1248.5,880.2 L1248.7,882.2 L1248.9,884.2 L1249.0,886.2 L1249.2,888.2 L1249.3,890.2 L1249.5,892.2 L1249.7,894.2 L1249.8,896.2 L1250.0,898.2 L1250.1,900.2 L1250.3,902.2 L1250.4,904.2 L1250.6,906.2 L1250.7,908.1 L1250.9,910.1 L1251.0,912.1 L1251.2,914.1 L1251.3,916.1 L1251.5,918.1 L1251.6,920.1 L1251.8,922.1 L1251.9,924.1 L1252.0,926.1 L1252.2,928.1 L1252.3,930.1 L1252.5,932.1 L1252.6,934.1 L1252.8,936.1 L1252.9,938.1 L1253.1,940.1 L1253.2,942.1 L1253.4,944.1 L1253.5,946.1 L1253.7,948.0 L1253.8,950.0 L1254.0,952.0 L1254.2,954.0 L1254.3,956.0 L1254.5,958.0 L1254.7,960.0 L1254.8,962.0 L1255.0,964.0 L1255.2,966.0 L1255.4,968.0 L1255.6,970.0 L1255.8,972.0 L1256.0,973.9 L1256.2,975.9 L1256.4,977.9 L1256.6,979.9 L1256.8,981.9 L1257.0,983.9 L1257.2,985.9 L1257.4,987.9 L1257.6,989.9 L1257.9,991.8 L1258.1,993.8 L1258.3,995.8 L1258.5,997.8 L1258.7,999.8 L1258.9,1001.8 L1259.1,1003.8 L1259.3,1005.8 L1259.6,1007.8 L1259.8,1009.8 L1260.0,1011.7 L1260.2,1013.7 L1260.4,1015.7 L1260.6,1017.7 L1260.8,1019.7 L1261.0,1021.7 L1261.2,1023.7 L1261.4,1025.7 L1261.6,1027.7 L1261.8,1029.7 L1262.0,1031.6 L1262.2,1033.6 L1262.4,1035.6 L1262.6,1037.6 L1262.8,1039.6 L1263.0,1041.6 L1263.2,1043.6 L1263.4,1045.6 L1263.6,1047.6 L1263.8,1049.6 L1264.0,1051.5 L1264.2,1053.5 L1264.4,1055.5 L1264.5,1057.5 L1264.7,1059.5 L1264.9,1061.5 L1265.1,1063.5 L1265.3,1065.5 L1265.5,1067.5 L1265.7,1069.5 L1265.9,1071.5 L1266.1,1073.4 L1266.3,1075.4 L1266.5,1077.4 L1266.7,1079.4 L1266.9,1081.4 L1267.1,1083.4 L1267.3,1085.4 L1267.5,1087.4 L1267.7,1089.4 L1267.9,1091.4 L1268.1,1093.4 L1268.3,1095.3 L1268.5,1097.3 L1268.7,1099.3 L1268.9,1101.3 L1269.1,1103.3 L1269.3,1105.3 L1269.5,1107.3 L1269.8,1109.3 L1270.0,1111.2 L1270.2,1113.2 L1270.4,1115.2 L1270.7,1117.2 L1270.9,1119.2 L1271.1,1121.2 L1271.4,1123.2 L1271.6,1125.2 L1271.9,1127.1 L1272.1,1129.1 L1272.4,1131.1 L1272.6,1133.1 L1272.9,1135.1 L1273.1,1137.1 L1273.4,1139.0 L1273.7,1141.0 L1273.9,1143.0 L1274.2,1145.0 L1274.4,1147.0 L1274.7,1149.0 L1274.9,1150.9 L1275.2,1152.9 L1275.4,1154.9 L1275.7,1156.9 L1275.9,1158.9 L1276.2,1160.9 L1276.4,1162.9 L1276.7,1164.8 L1276.9,1166.8 L1277.1,1168.8 L1277.4,1170.8 L1277.6,1172.8 L1277.8,1174.8 L1278.1,1176.8 L1278.3,1178.8 L1278.5,1180.8 L1278.7,1182.7 L1279.0,1184.7 L1279.2,1186.7 L1279.4,1188.7 L1279.7,1190.7 L1279.9,1192.7 L1280.2,1194.7 L1280.5,1196.6 L1280.7,1198.6 L1281.0,1200.6 L1281.3,1202.6 L1281.6,1204.6 L1281.9,1206.5 L1282.2,1208.5 L1282.5,1210.5 L1282.9,1212.4 L1283.2,1214.4 L1283.6,1216.4 L1284.0,1218.4 L1284.4,1220.3 L1284.8,1222.3 L1285.2,1224.2 L1285.7,1226.2 L1286.1,1228.1 L1286.6,1230.1 L1287.1,1232.0 L1287.6,1234.0 L1288.1,1235.9 L1288.7,1237.8 L1289.2,1239.7 L1289.8,1241.7 L1290.4,1243.6 L1291.0,1245.5 L1291.7,1247.4 L1292.4,1249.3 L1293.1,1251.2 L1293.8,1253.1 L1294.6,1255.0 L1295.5,1256.8 L1296.3,1258.6 L1297.2,1260.4 L1298.2,1262.1 L1299.2,1263.8 L1300.2,1265.4 L1301.4,1266.9 L1302.7,1268.5 L1304.2,1270.1 L1305.7,1271.6 L1307.3,1272.9 L1309.0,1274.1 L1310.7,1275.0 L1312.4,1275.7 L1314.2,1276.3 L1316.0,1276.8 L1318.0,1277.3 L1319.9,1277.7 L1321.9,1278.0 L1323.9,1278.4 L1325.9,1278.6 L1327.9,1278.8 L1329.9,1279.0 L1331.9,1279.1 L1333.9,1279.3 L1335.9,1279.4 L1337.9,1279.5 L1339.9,1279.5 L1341.9,1279.6 L1343.9,1279.7 L1345.8,1279.7 L1347.8,1279.8 L1349.8,1279.8 L1351.8,1279.8 L1353.8,1279.9 L1355.8,1279.9 L1357.8,1280.0 L1359.8,1280.0 L1361.8,1280.0 L1363.8,1280.0 L1365.9,1280.1 L1367.9,1280.1 L1369.9,1280.1 L1371.9,1280.1 L1373.9,1280.2 L1375.9,1280.2 L1377.9,1280.2 L1379.9,1280.2 L1381.9,1280.2 L1383.9,1280.2 L1385.9,1280.3 L1387.9,1280.3 L1389.9,1280.3 L1391.9,1280.3 L1393.9,1280.3 L1395.9,1280.3 L1397.9,1280.3 L1399.9,1280.3 L1401.9,1280.3 L1403.9,1280.3 L1405.9,1280.3 L1407.9,1280.3 L1409.9,1280.3 L1411.9,1280.3 L1413.9,1280.3 L1415.9,1280.3 L1417.9,1280.3 L1419.9,1280.3 L1421.9,1280.3 L1423.9,1280.3 L1425.9,1280.3 L1427.9,1280.3 L1429.9,1280.3 L1431.9,1280.3 L1433.9,1280.2 L1435.9,1280.2 L1437.9,1280.2 L1439.9,1280.2 L1441.9,1280.2 L1443.9,1280.2 L1445.9,1280.2 L1447.9,1280.2 L1449.9,1280.2 L1451.9,1280.2 L1453.9,1280.2 L1455.9,1280.2 L1457.9,1280.2 L1459.9,1280.2 L1461.9,1280.2 L1463.9,1280.2 L1465.9,1280.1 L1467.9,1280.1 L1469.9,1280.1 L1471.9,1280.1 L1473.9,1280.1 L1475.9,1280.1 L1477.9,1280.1 L1479.9,1280.1 L1481.9,1280.1 L1483.9,1280.1 L1485.9,1280.1 L1487.9,1280.1 L1489.9,1280.1 L1491.9,1280.1 L1493.9,1280.1 L1495.9,1280.1 L1497.9,1280.0 L1499.9,1280.0 L1501.9,1280.0 L1503.9,1280.0 L1506.0,1280.0 L1508.0,1280.0 L1510.0,1280.0 L1512.0,1280.0 L1514.0,1280.0 L1516.0,1280.0 L1518.0,1280.0 L1520.0,1280.0 L1522.0,1280.0 L1524.0,1280.0 L1526.0,1280.0 L1528.0,1280.0 L1530.0,1280.0 L1532.0,1280.0 L1534.0,1280.0 L1536.0,1280.0 L1538.0,1280.0 L1540.0,1280.0 L1542.0,1280.0 L1544.0,1280.0 L1546.0,1280.0 L1548.0,1280.0 L1550.0,1280.0 L1552.0,1280.0 L1554.0,1280.0 L1556.0,1280.0 L1558.0,1280.0 L1560.0,1280.0 L1562.0,1280.0 L1564.0,1280.0 L1566.0,1280.0 L1568.0,1280.0 L1570.0,1280.0 L1572.0,1280.0 L1574.0,1280.0 L1576.0,1280.0 L1578.0,1280.0 L1580.0,1280.0 L1582.0,1280.0 L1584.0,1280.0 L1586.0,1280.0 L1588.0,1280.0 L1590.0,1280.0 L1592.0,1280.0 L1594.0,1280.0 L1596.0,1280.0 L1598.0,1280.1 L1600.0,1280.1 L1602.0,1280.1 L1604.0,1280.1 L1606.0,1280.1 L1608.0,1280.1 L1610.0,1280.1 L1612.0,1280.1 L1614.0,1280.1 L1616.0,1280.1 L1618.0,1280.1 L1620.0,1280.1 L1622.0,1280.1 L1624.0,1280.1 L1626.0,1280.1 L1628.0,1280.1 L1630.0,1280.1 L1632.0,1280.1 L1634.0,1280.1 L1636.0,1280.1 L1638.0,1280.1 L1640.0,1280.1 L1642.0,1280.1 L1644.0,1280.1 L1646.0,1280.1 L1648.0,1280.2 L1650.0,1280.2 L1652.0,1280.2 L1654.0,1280.2 L1656.0,1280.2 L1658.0,1280.2 L1660.0,1280.2 L1662.0,1280.2 L1664.0,1280.2 L1666.0,1280.2 L1668.0,1280.2 L1670.0,1280.2 L1672.0,1280.2 L1674.0,1280.2 L1676.0,1280.2 L1678.0,1280.2 L1680.0,1280.2 L1682.0,1280.2 L1684.0,1280.3 L1686.0,1280.3 L1688.0,1280.3 L1690.0,1280.3 L1692.0,1280.3 L1694.0,1280.3 L1696.0,1280.3 L1698.0,1280.3 L1700.0,1280.3 L1702.0,1280.3 L1704.0,1280.3 L1706.0,1280.3 L1708.0,1280.4 L1710.0,1280.4 L1712.0,1280.4 L1714.0,1280.4 L1716.0,1280.4 L1718.0,1280.4 L1720.0,1280.5 L1722.0,1280.5 L1724.0,1280.5 L1726.0,1280.5 L1728.0,1280.6 L1730.0,1280.6 L1732.0,1280.6 L1734.0,1280.6 L1736.0,1280.7 L1738.0,1280.7 L1740.0,1280.7 L1742.0,1280.8 L1744.0,1280.8 L1746.0,1280.8 L1748.0,1280.9 L1750.0,1280.9 L1752.0,1280.9 L1754.0,1280.9 L1756.0,1281.0 L1758.0,1281.0 L1760.0,1281.0 L1762.0,1281.1 L1764.0,1281.1 L1766.0,1281.1 L1768.0,1281.2 L1770.0,1281.2 L1772.0,1281.2 L1774.0,1281.2 L1776.0,1281.3 L1778.0,1281.3 L1780.0,1281.3 L1782.0,1281.3 L1784.0,1281.4 L1786.0,1281.4 L1788.0,1281.4 L1790.0,1281.4 L1792.0,1281.4 L1794.0,1281.4 L1796.0,1281.5 L1798.0,1281.5 L1800.0,1281.5 L1802.0,1281.5 L1804.0,1281.5 L1806.0,1281.5 L1808.0,1281.5 L1810.0,1281.5 L1812.0,1281.6 L1814.0,1281.6 L1816.0,1281.6 L1818.0,1281.6 L1820.0,1281.6 L1822.0,1281.6 L1824.0,1281.6 L1826.0,1281.6 L1828.0,1281.6 L1830.0,1281.6 L1832.0,1281.6 L1834.0,1281.7 L1836.0,1281.7 L1838.0,1281.7 L1840.0,1281.7 L1842.0,1281.7 L1844.0,1281.7 L1846.0,1281.7 L1848.0,1281.7 L1850.0,1281.7 L1852.0,1281.7 L1854.0,1281.7 L1856.0,1281.7 L1858.0,1281.7 L1860.0,1281.8 L1862.0,1281.8 L1864.0,1281.8 L1866.0,1281.8 L1868.0,1281.8 L1870.0,1281.8 L1872.0,1281.8 L1874.0,1281.8 L1876.0,1281.8 L1878.0,1281.8 L1880.0,1281.8 L1882.0,1281.8 L1884.0,1281.8 L1886.0,1281.8 L1888.0,1281.8 L1890.0,1281.9 L1892.0,1281.9 L1894.0,1281.9 L1896.0,1281.9 L1898.0,1281.9 L1900.0,1281.9 L1902.0,1281.9 L1904.0,1281.9 L1906.0,1281.9 L1908.0,1281.9 L1910.0,1281.9 L1912.0,1281.9 L1914.0,1281.9 L1916.0,1281.9 L1918.0,1281.9 L1920.0,1281.9 L1922.0,1281.9 L1924.0,1281.9 L1926.0,1281.9 L1928.0,1281.9 L1930.0,1281.9 L1932.0,1282.0 L1934.0,1282.0 L1936.0,1282.0 L1938.0,1282.0 L1940.0,1282.0 L1942.0,1282.0 L1944.0,1282.0 L1946.0,1282.0 L1948.0,1282.0 L1950.0,1282.0 L1952.0,1282.0 L1954.0,1282.0 L1956.0,1282.0 L1958.0,1282.0 L1960.0,1282.0 L1962.0,1282.0 L1964.0,1282.0 L1966.0,1282.0 L1968.0,1282.0 L1970.0,1282.0 L1972.0,1282.0 L1974.0,1282.0 L1976.0,1282.0 L1978.0,1282.0 L1980.0,1282.0 L1982.0,1282.0 L1984.0,1282.0 L1986.0,1282.0 L1988.0,1282.0 L1990.0,1282.0 L1992.0,1282.0 L1994.0,1282.0 L1996.0,1282.0 L1998.0,1282.0 L1999.9,1282.0 L2001.9,1282.0 L2003.8,1282.0 L2005.7,1282.0 L2007.5,1282.0 L2009.3,1282.0 L2010.9,1282.0 L2012.4,1282.0 L2013.7,1282.0 L2014.9,1282.0"/>
<path class="curve" stroke="#800080" d="M191.9,84.6 L193.9,84.6 L195.9,84.6 L197.9,84.6 L199.9,84.7 L201.9,84.7 L203.9,84.7 L205.9,84.7 L207.9,84.8 L209.9,84.8 L211.9,84.8 L213.9,84.9 L215.9,84.9 L217.9,84.9 L219.9,84.9 L221.9,85.0 L223.9,85.0 L225.9,85.1 L227.9,85.1 L229.9,85.1 L231.9,85.2 L233.9,85.2 L235.9,85.3 L237.9,85.3 L239.9,85.3 L241.9,85.4 L243.9,85.4 L245.9,85.5 L247.9,85.5 L249.9,85.6 L251.9,85.6 L253.9,85.7 L255.9,85.8 L257.9,85.8 L259.9,85.9 L261.9,85.9 L263.9,86.0 L265.9,86.1 L267.9,86.1 L269.9,86.2 L271.9,86.2 L273.9,86.3 L275.9,86.4 L277.9,86.5 L279.9,86.5 L281.9,86.6 L283.9,86.7 L285.9,86.7 L287.9,86.8 L289.9,86.9 L291.9,87.0 L293.9,87.1 L295.9,87.1 L297.9,87.2 L299.9,87.3 L301.9,87.4 L303.9,87.5 L305.9,87.6 L307.9,87.7 L309.9,87.7 L311.8,87.8 L313.8,87.9 L315.8,88.0 L317.8,88.1 L319.8,88.2 L321.8,88.3 L323.8,88.4 L325.8,88.5 L327.8,88.6 L329.8,88.7 L331.8,88.8 L333.8,88.9 L335.8,89.0 L337.8,89.1 L339.8,89.3 L341.8,89.4 L343.8,89.5 L345.8,89.6 L347.8,89.7 L349.8,89.8 L351.8,89.9 L353.8,90.1 L355.8,90.2 L357.8,90.3 L359.8,90.4 L361.8,90.5 L363.8,90.7 L365.8,90.8 L367.8,90.9 L369.8,91.1 L371.8,91.2 L373.7,91.3 L375.7,91.5 L377.7,91.6 L379.7,91.7 L381.7,91.9 L383.7,92.0 L385.7,92.1 L387.7,92.3 L389.7,92.4 L391.7,92.6 L393.7,92.7 L395.7,92.9 L397.7,93.0 L399.7,93.2 L401.7,93.3 L403.7,93.5 L405.7,93.6 L407.7,93.8 L409.7,93.9 L411.6,94.1 L413.6,94.3 L415.6,94.4 L417.6,94.6 L419.6,94.7 L421.6,94.9 L423.6,95.1 L425.6,95.3 L427.6,95.4 L429.6,95.6 L431.6,95.8 L433.6,95.9 L435.6,96.1 L437.6,96.3 L439.5,96.5 L441.5,96.7 L443.5,96.8 L445.5,97.0 L447.5,97.2 L449.5,97.4 L451.5,97.6 L453.5,97.8 L455.5,98.0 L457.5,98.2 L459.5,98.4 L461.4,98.5 L463.4,98.7 L465.4,98.9 L467.4,99.1 L469.4,99.3 L471.4,99.6 L473.4,99.8 L475.4,100.0 L477.4,100.2 L479.4,100.4 L481.3,100.6 L483.3,100.8 L485.3,101.0 L487.3,101.2 L489.3,101.5 L491.3,101.7 L493.3,101.9 L495.3,102.1 L497.2,102.3 L499.2,102.6 L501.2,102.8 L503.2,103.0 L505.2,103.3 L507.2,103.5 L509.2,103.7 L511.2,104.0 L513.1,104.2 L515.1,104.4 L517.1,104.7 L519.1,104.9 L521.1,105.2 L523.1,105.4 L525.0,105.7 L527.0,105.9 L529.0,106.2 L531.0,106.4 L533.0,106.7 L535.0,106.9 L537.0,107.2 L538.9,107.5 L540.9,107.7 L542.9,108.0 L544.9,108.3 L546.9,108.5 L548.8,108.8 L550.8,109.1 L552.8,109.3 L554.8,109.6 L556.8,109.9 L558.8,110.2 L560.7,110.4 L562.7,110.7 L564.7,111.0 L566.7,111.3 L568.7,111.5 L570.6,111.8 L572.6,112.1 L574.6,112.4 L576.6,112.7 L578.6,113.0 L580.5,113.3 L582.5,113.6 L584.5,113.8 L586.5,114.1 L588.4,114.4 L590.4,114.7 L592.4,115.0 L594.4,115.3 L596.4,115.6 L598.3,115.9 L600.3,116.2 L602.3,116.5 L604.3,116.8 L606.2,117.1 L608.2,117.4 L610.2,117.7 L612.2,118.0 L614.2,118.3 L616.1,118.6 L618.1,118.9 L620.1,119.2 L622.1,119.6 L624.0,119.9 L626.0,120.2 L628.0,120.5 L630.0,120.8 L631.9,121.1 L633.9,121.4 L635.9,121.7 L637.9,122.0 L639.8,122.4 L641.8,122.7 L643.8,123.0 L645.8,123.3 L647.7,123.6 L649.7,123.9 L651.7,124.2 L653.7,124.5 L655.6,124.9 L657.6,125.2 L659.6,125.5 L661.6,125.8 L663.5,126.1 L665.5,126.4 L667.5,126.7 L669.5,127.1 L671.4,127.4 L673.4,127.7 L675.4,128.0 L677.4,128.3 L679.3,128.6 L681.3,128.9 L683.3,129.2 L685.3,129.5 L687.3,129.8 L689.2,130.1 L691.2,130.4 L693.2,130.8 L695.2,131.1 L697.1,131.4 L699.1,131.7 L701.1,132.0 L703.1,132.3 L705.0,132.6 L707.0,132.8 L709.0,133.1 L711.0,133.4 L713.0,133.7 L714.9,134.0 L716.9,134.3 L718.9,134.6 L720.9,134.9 L722.9,135.2 L724.8,135.5 L726.8,135.7 L728.8,136.0 L730.8,136.3 L732.8,136.6 L734.7,136.9 L736.7,137.1 L738.7,137.4 L740.7,137.7 L742.7,138.0 L744.6,138.2 L746.6,138.5 L748.6,138.8 L750.6,139.1 L752.6,139.3 L754.5,139.6 L756.5,139.9 L758.5,140.1 L760.5,140.4 L762.5,140.6 L764.5,140.9 L766.4,141.1 L768.4,141.4 L770.4,141.6 L772.4,141.9 L774.4,142.1 L776.4,142.4 L778.4,142.6 L780.3,142.8 L782.3,143.1 L784.3,143.3 L786.3,143.5 L788.3,143.8 L790.3,144.0 L792.3,144.2 L794.3,144.4 L796.2,144.7 L798.2,144.9 L800.2,145.1 L802.2,145.3 L804.2,145.5 L806.2,145.7 L808.2,145.9 L810.2,146.1 L812.2,146.3 L814.1,146.5 L816.1,146.7 L818.1,146.9 L820.1,147.1 L822.1,147.3 L824.1,147.5 L826.1,147.7 L828.1,147.9 L830.1,148.1 L832.1,148.3 L834.0,148.5 L836.0,148.7 L838.0,148.9 L840.0,149.1 L842.0,149.3 L844.0,149.5 L846.0,149.7 L848.0,149.9 L850.0,150.1 L852.0,150.3 L853.9,150.4 L855.9,150.6 L857.9,150.8 L859.9,151.0 L861.9,151.2 L863.9,151.4 L865.9,151.6 L867.9,151.8 L869.9,152.0 L871.9,152.3 L873.8,152.5 L875.8,152.7 L877.8,152.9 L879.8,153.1 L881.8,153.3 L883.8,153.6 L885.8,153.8 L887.8,154.0 L889.7,154.3 L891.7,154.5 L893.7,154.8 L895.7,155.0 L897.7,155.3 L899.7,155.5 L901.6,155.8 L903.6,156.1 L905.6,156.3 L907.6,156.6 L909.6,156.9 L911.6,157.2 L913.5,157.4 L915.5,157.7 L917.5,158.0 L919.5,158.3 L921.4,158.6 L923.4,158.9 L925.4,159.2 L927.4,159.6 L929.3,159.9 L931.3,160.2 L933.3,160.5 L935.3,160.9 L937.2,161.2 L939.2,161.6 L941.2,161.9 L943.1,162.3 L945.1,162.7 L947.1,163.1 L949.0,163.4 L951.0,163.8 L952.9,164.2 L954.9,164.7 L956.9,165.1 L958.8,165.5 L960.8,165.9 L962.7,166.4 L964.7,166.9 L966.6,167.3 L968.5,167.8 L970.5,168.3 L972.4,168.8 L974.3,169.3 L976.3,169.9 L978.2,170.4 L980.1,171.0 L982.0,171.6 L983.9,172.2 L985.8,172.8 L987.7,173.4 L989.6,174.1 L991.5,174.8 L993.4,175.4 L995.3,176.2 L997.1,176.9 L999.0,177.6 L1000.8,178.4 L1002.7,179.2 L1004.5,180.0 L1006.3,180.8 L1008.1,181.7 L1009.9,182.6 L1011.7,183.5 L1013.5,184.4 L1015.2,185.4 L1017.0,186.3 L1018.7,187.3 L1020.4,188.3 L1022.1,189.4 L1023.8,190.4 L1025.5,191.5 L1027.2,192.6 L1028.8,193.7 L1030.5,194.9 L1032.1,196.0 L1033.7,197.2 L1035.3,198.4 L1036.9,199.6 L1038.5,200.8 L1040.1,202.1 L1041.6,203.4 L1043.1,204.7 L1044.6,206.0 L1046.1,207.3 L1047.6,208.6 L1049.1,210.0 L1050.6,211.4 L1052.0,212.7 L1053.4,214.1 L1054.8,215.6 L1056.2,217.0 L1057.6,218.4 L1059.0,219.9 L1060.4,221.3 L1061.7,222.8 L1063.1,224.3 L1064.4,225.8 L1065.7,227.3 L1067.0,228.8 L1068.3,230.4 L1069.6,231.9 L1070.8,233.5 L1072.1,235.0 L1073.3,236.6 L1074.5,238.2 L1075.7,239.8 L1076.9,241.4 L1078.1,243.0 L1079.3,244.6 L1080.5,246.2 L1081.6,247.8 L1082.8,249.5 L1083.9,251.1 L1085.0,252.8 L1086.2,254.4 L1087.3,256.1 L1088.4,257.8 L1089.5,259.4 L1090.5,261.1 L1091.6,262.8 L1092.7,264.5 L1093.7,266.2 L1094.8,267.9 L1095.8,269.6 L1096.8,271.3 L1097.8,273.1 L1098.9,274.8 L1099.9,276.5 L1100.9,278.3 L1101.9,280.0 L1102.8,281.7 L1103.8,283.5 L1104.8,285.2 L1105.8,287.0 L1106.7,288.7 L1107.7,290.5 L1108.6,292.3 L1109.5,294.0 L1110.5,295.8 L1111.4,297.6 L1112.3,299.4 L1113.2,301.1 L1114.1,302.9 L1115.0,304.7 L1115.9,306.5 L1116.8,308.3 L1117.6,310.1 L1118.5,311.9 L1119.4,313.7 L1120.2,315.5 L1121.1,317.3 L1121.9,319.1 L1122.7,321.0 L1123.6,322.8 L1124.4,324.6 L1125.2,326.4 L1126.0,328.3 L1126.8,330.1 L1127.6,331.9 L1128.4,333.8 L1129.2,335.6 L1130.0,337.4 L1130.8,339.3 L1131.5,341.1 L1132.3,343.0 L1133.1,344.8 L1133.8,346.7 L1134.6,348.5 L1135.3,350.4 L1136.1,352.2 L1136.8,354.1 L1137.5,356.0 L1138.3,357.8 L1139.0,359.7 L1139.7,361.6 L1140.4,363.4 L1141.1,365.3 L1141.8,367.2 L1142.5,369.0 L1143.2,370.9 L1143.9,372.8 L1144.6,374.7 L1145.3,376.6 L1145.9,378.4 L1146.6,380.3 L1147.3,382.2 L1147.9,384.1 L1148.6,386.0 L1149.2,387.9 L1149.9,389.8 L1150.5,391.7 L1151.2,393.6 L1151.8,395.4 L1152.5,397.3 L1153.1,399.2 L1153.7,401.1 L1154.4,403.0 L1155.0,404.9 L1155.6,406.8 L1156.2,408.7 L1156.8,410.6 L1157.5,412.5 L1158.1,414.4 L1158.7,416.3 L1159.3,418.3 L1159.9,420.2 L1160.5,422.1 L1161.1,424.0 L1161.7,425.9 L1162.3,427.8 L1162.9,429.7 L1163.5,431.6 L1164.1,433.5 L1164.6,435.4 L1165.2,437.4 L1165.8,439.3 L1166.4,441.2 L1167.0,443.1 L1167.5,445.0 L1168.1,446.9 L1168.7,448.8 L1169.2,450.8 L1169.8,452.7 L1170.4,454.6 L1170.9,456.5 L1171.5,458.4 L1172.1,460.4 L1172.6,462.3 L1173.2,464.2 L1173.7,466.1 L1174.3,468.0 L1174.8,470.0 L1175.4,471.9 L1175.9,473.8 L1176.5,475.7 L1177.0,477.7 L1177.6,479.6 L1178.1,481.5 L1178.7,483.4 L1179.2,485.4 L1179.8,487.3 L1180.3,489.2 L1180.8,491.1 L1181.4,493.1 L1181.9,495.0 L1182.5,496.9 L1183.0,498.8 L1183.5,500.8 L1184.1,502.7 L1184.6,504.6 L1185.1,506.5 L1185.7,508.5 L1186.2,510.4 L1186.7,512.3 L1187.3,514.3 L1187.8,516.2 L1188.3,518.1 L1188.9,520.0 L1189.4,522.0 L1189.9,523.9 L1190.5,525.8 L1191.0,527.8 L1191.5,529.7 L1192.0,531.6 L1192.6,533.5 L1193.1,535.5 L1193.6,537.4 L1194.2,539.3 L1194.7,541.3 L1195.2,543.2 L1195.8,545.1 L1196.3,547.0 L1196.8,549.0 L1197.4,550.9 L1197.9,552.8 L1198.4,554.7 L1199.0,556.7 L1199.5,558.6 L1200.0,560.5 L1200.6,562.5 L1201.1,564.4 L1201.7,566.3 L1202.2,568.2 L1202.7,570.2 L1203.3,572.1 L1203.8,574.0 L1204.4,575.9 L1204.9,577.9 L1205.5,579.8 L1206.0,581.7 L1206.6,583.6 L1207.1,585.5 L1207.7,587.5 L1208.2,589.4 L1208.8,591.3 L1209.4,593.2 L1209.9,595.1 L1210.5,597.1 L1211.1,599.0 L1211.7,600.9 L1212.2,602.8 L1212.8,604.7 L1213.4,606.6 L1214.0,608.5 L1214.6,610.5 L1215.2,612.4 L1215.8,614.3 L1216.4,616.2 L1217.0,618.1 L1217.6,620.0 L1218.2,621.9 L1218.8,623.8 L1219.4,625.7 L1220.1,627.6 L1220.7,629.5 L1221.3,631.4 L1222.0,633.3 L1222.6,635.2 L1223.3,637.1 L1224.0,638.9 L1224.6,640.8 L1225.3,642.7 L1226.0,644.6 L1226.7,646.5 L1227.4,648.3 L1228.1,650.2 L1228.8,652.1 L1229.5,654.0 L1230.2,655.8 L1231.0,657.7 L1231.7,659.5 L1232.5,661.4 L1233.2,663.2 L1234.0,665.1 L1234.8,666.9 L1235.6,668.8 L1236.4,670.6 L1237.2,672.4 L1238.0,674.2 L1238.9,676.0 L1239.7,677.9 L1240.6,679.7 L1241.5,681.4 L1242.4,683.2 L1243.3,685.0 L1244.2,686.8 L1245.2,688.5 L1246.2,690.3 L1247.2,692.0 L1248.2,693.7 L1249.3,695.4 L1250.3,697.1 L1251.4,698.8 L1252.6,700.4 L1253.7,702.1 L1254.9,703.7 L1256.1,705.2 L1257.4,706.8 L1258.7,708.3 L1260.0,709.8 L1261.3,711.3 L1262.7,712.8 L1264.1,714.2 L1265.6,715.6 L1267.1,716.9 L1268.6,718.2 L1270.1,719.5 L1271.7,720.7 L1273.3,722.0 L1274.9,723.1 L1276.5,724.3 L1278.2,725.4 L1279.9,726.5 L1281.6,727.5 L1283.3,728.5 L1285.1,729.4 L1286.9,730.3 L1288.7,731.2 L1290.5,732.1 L1292.3,732.8 L1294.2,733.6 L1296.0,734.3 L1297.9,735.0 L1299.8,735.7 L1301.7,736.3 L1303.6,736.9 L1305.5,737.4 L1307.5,737.9 L1309.4,738.4 L1311.4,738.9 L1313.3,739.3 L1315.3,739.7 L1317.2,740.0 L1319.2,740.4 L1321.2,740.7 L1323.2,741.0 L1325.1,741.3 L1327.1,741.5 L1329.1,741.8 L1331.1,742.0 L1333.1,742.2 L1335.1,742.4 L1337.1,742.6 L1339.1,742.8 L1341.1,743.0 L1343.0,743.1 L1345.0,743.3 L1347.0,743.4 L1349.0,743.5 L1351.0,743.7 L1353.0,743.8 L1355.0,743.9 L1357.0,744.0 L1359.0,744.1 L1361.0,744.2 L1363.0,744.3 L1365.0,744.4 L1367.0,744.4 L1369.0,744.5 L1371.0,744.6 L1373.0,744.7 L1375.0,744.7 L1377.0,744.8 L1379.0,744.9 L1381.0,745.0 L1383.0,745.0 L1385.0,745.1 L1387.0,745.1 L1389.0,745.2 L1391.0,745.3 L1393.0,745.3 L1395.0,745.4 L1397.0,745.4 L1399.0,745.5 L1401.0,745.6 L1403.0,745.6 L1405.0,745.7 L1407.0,745.7 L1409.0,745.8 L1411.0,745.8 L1413.0,745.9 L1415.0,745.9 L1417.0,746.0 L1419.0,746.0 L1421.0,746.1 L1423.0,746.1 L1425.0,746.2 L1427.0,746.2 L1429.0,746.2 L1431.0,746.3 L1433.0,746.3 L1435.0,746.4 L1437.0,746.4 L1439.0,746.5 L1441.0,746.5 L1443.0,746.6 L1445.0,746.6 L1447.0,746.6 L1449.0,746.7 L1451.0,746.7 L1453.0,746.8 L1455.0,746.8 L1457.0,746.8 L1459.0,746.9 L1461.0,746.9 L1463.0,747.0 L1465.0,747.0 L1467.0,747.0 L1469.0,747.1 L1471.0,747.1 L1473.0,747.2 L1475.0,747.2 L1477.0,747.2 L1479.0,747.3 L1481.0,747.3 L1483.0,747.3 L1485.0,747.4 L1487.0,747.4 L1489.0,747.4 L1491.0,747.5 L1493.0,747.5 L1495.0,747.5 L1497.0,747.6 L1499.0,747.6 L1501.0,747.6 L1503.0,747.7 L1505.0,747.7 L1507.0,747.7 L1509.0,747.8 L1511.0,747.8 L1513.0,747.8 L1515.0,747.9 L1517.0,747.9 L1519.0,747.9 L1521.0,748.0 L1523.0,748.0 L1525.0,748.0 L1527.0,748.1 L1529.0,748.1 L1531.0,748.1 L1533.0,748.2 L1535.0,748.2 L1537.0,748.2 L1539.0,748.3 L1541.0,748.3 L1543.0,748.3 L1545.0,748.4 L1547.0,748.4 L1549.0,748.4 L1551.0,748.5 L1553.0,748.5 L1555.0,748.5 L1557.0,748.6 L1559.0,748.6 L1561.0,748.6 L1563.0,748.7 L1565.0,748.7 L1567.0,748.7 L1569.0,748.8 L1571.0,748.8 L1573.0,748.8 L1575.0,748.9 L1577.0,748.9 L1579.0,748.9 L1581.0,749.0 L1583.0,749.0 L1585.0,749.0 L1587.0,749.1 L1589.0,749.1 L1591.0,749.1 L1593.0,749.2 L1595.0,749.2 L1597.0,749.2 L1599.0,749.3 L1601.0,749.3 L1603.0,749.3 L1605.0,749.4 L1607.0,749.4 L1609.0,749.4 L1611.0,749.4 L1613.0,749.5 L1615.0,749.5 L1617.0,749.5 L1619.0,749.6 L1621.0,749.6 L1623.0,749.6 L1625.0,749.7 L1627.0,749.7 L1629.0,749.7 L1631.0,749.8 L1633.0,749.8 L1635.0,749.8 L1637.0,749.9 L1639.0,749.9 L1641.0,749.9 L1643.0,750.0 L1645.0,750.0 L1647.0,750.0 L1649.0,750.1 L1651.0,750.1 L1653.0,750.1 L1654.9,750.1 L1656.9,750.2 L1658.9,750.2 L1660.9,750.2 L1662.9,750.3 L1664.9,750.3 L1666.9,750.3 L1668.9,750.4 L1670.9,750.4 L1672.9,750.4 L1674.9,750.4 L1676.9,750.5 L1678.9,750.5 L1680.9,750.5 L1682.9,750.6 L1684.9,750.6 L1686.9,750.6 L1688.9,750.7 L1690.9,750.7 L1692.9,750.7 L1694.9,750.7 L1696.9,750.8 L1698.9,750.8 L1700.9,750.8 L1702.9,750.9 L1704.9,750.9 L1706.9,750.9 L1708.9,751.0 L1710.9,751.0 L1712.9,751.0 L1714.9,751.1 L1716.9,751.1 L1718.9,751.1 L1720.9,751.2 L1722.9,751.2 L1724.9,751.2 L1726.9,751.3 L1728.9,751.3 L1730.9,751.3 L1732.9,751.4 L1734.9,751.4 L1736.9,751.4 L1738.9,751.5 L1740.9,751.5 L1742.9,751.5 L1744.9,751.6 L1746.9,751.6 L1748.9,751.6 L1750.9,751.7 L1752.9,751.7 L1754.9,751.7 L1756.9,751.8 L1758.9,751.8 L1760.9,751.8 L1762.9,751.9 L1764.9,751.9 L1766.9,751.9 L1768.9,751.9 L1770.9,752.0 L1772.9,752.0 L1774.9,752.0 L1776.9,752.1 L1778.9,752.1 L1780.9,752.1 L1782.9,752.2 L1784.9,752.2 L1786.9,752.2 L1788.9,752.3 L1790.9,752.3 L1792.9,752.3 L1794.9,752.3 L1796.9,752.4 L1798.9,752.4 L1800.9,752.4 L1802.9,752.5 L1804.9,752.5 L1806.9,752.5 L1808.9,752.5 L1810.9,752.6 L1812.9,752.6 L1814.9,752.6 L1816.9,752.6 L1818.9,752.7 L1820.9,752.7 L1822.9,752.7 L1824.9,752.7 L1826.9,752.8 L1828.9,752.8 L1830.9,752.8 L1832.9,752.8 L1834.9,752.9 L1836.9,752.9 L1838.9,752.9 L1840.9,752.9 L1842.9,752.9 L1844.9,753.0 L1846.9,753.0 L1848.9,753.0 L1850.9,753.0 L1852.9,753.0 L1854.9,753.1 L1856.9,753.1 L1858.9,753.1 L1860.9,753.1 L1862.9,753.1 L1864.9,753.1 L1866.9,753.1 L1868.9,753.2 L1870.9,753.2 L1872.9,753.2 L1874.9,753.2 L1876.9,753.2 L1878.9,753.2 L1880.9,753.2 L1882.9,753.2 L1884.9,753.2 L1886.9,753.3 L1888.9,753.3 L1890.9,753.3 L1892.9,753.3 L1894.9,753.3 L1896.9,753.3 L1898.9,753.3 L1900.9,753.3 L1902.9,753.3 L1904.9,753.3 L1906.9,753.3 L1908.9,753.3 L1910.9,753.3 L1912.9,753.3 L1914.9,753.3 L1916.9,753.3 L1918.9,753.3 L1920.9,753.3 L1922.9,753.3 L1924.9,753.3 L1926.9,753.3 L1928.9,753.3 L1930.9,753.3 L1932.9,753.3 L1934.9,753.3 L1936.9,753.3 L1938.9,753.3 L1940.9,753.3 L1942.9,753.3 L1944.9,753.3 L1946.9,753.3 L1948.9,753.3 L1950.9,753.3 L1952.9,753.3 L1954.9,753.3 L1956.9,753.3 L1958.9,753.3 L1960.9,753.3 L1962.9,753.3 L1964.9,753.3 L1966.9,753.3 L1968.9,753.3 L1970.9,753.3 L1972.9,753.3 L1974.9,753.3 L1976.9,753.3 L1978.9,753.3 L1980.9,753.3 L1982.9,753.3 L1983.4,753.3"/>
<path class="curve" stroke="#800080" d="M159.2,1279.0 L160.3,1279.0 L161.5,1279.0 L163.0,1279.0 L164.5,1279.0 L166.2,1279.0 L168.0,1279.0 L169.8,1279.0 L171.7,1279.0 L173.7,1279.0 L175.6,1279.0 L177.6,1279.0 L179.6,1279.0 L181.6,1279.0 L183.6,1279.0 L185.6,1279.0 L187.6,1279.0 L189.6,1279.0 L191.6,1278.9 L193.6,1278.9 L195.6,1278.9 L197.6,1278.9 L199.6,1278.9 L201.6,1278.8 L203.6,1278.8 L205.6,1278.8 L207.6,1278.7 L209.6,1278.7 L211.6,1278.7 L213.6,1278.6 L215.6,1278.6 L217.6,1278.6 L219.6,1278.5 L221.6,1278.5 L223.6,1278.5 L225.6,1278.4 L227.6,1278.4 L229.6,1278.3 L231.6,1278.3 L233.6,1278.3 L235.6,1278.2 L237.6,1278.2 L239.6,1278.2 L241.6,1278.1 L243.6,1278.1 L245.6,1278.0 L247.6,1278.0 L249.6,1278.0 L251.6,1277.9 L253.6,1277.9 L255.6,1277.8 L257.6,1277.8 L259.6,1277.7 L261.6,1277.7 L263.6,1277.7 L265.6,1277.6 L267.6,1277.6 L269.6,1277.5 L271.6,1277.5 L273.6,1277.4 L275.6,1277.4 L277.6,1277.3 L279.6,1277.3 L281.6,1277.2 L283.6,1277.2 L285.6,1277.1 L287.6,1277.1 L289.6,1277.0 L291.6,1277.0 L293.6,1277.0 L295.6,1276.9 L297.6,1276.9 L299.6,1276.8 L301.6,1276.8 L303.6,1276.7 L305.6,1276.7 L307.6,1276.6 L309.6,1276.6 L311.6,1276.5 L313.6,1276.5 L315.6,1276.4 L317.6,1276.3 L319.6,1276.3 L321.6,1276.2 L323.6,1276.2 L325.6,1276.1 L327.6,1276.1 L329.6,1276.0 L331.6,1276.0 L333.6,1275.9 L335.6,1275.9 L337.6,1275.8 L339.6,1275.8 L341.6,1275.7 L343.6,1275.7 L345.6,1275.6 L347.6,1275.5 L349.6,1275.5 L351.6,1275.4 L353.6,1275.4 L355.6,1275.3 L357.6,1275.3 L359.6,1275.2 L361.6,1275.2 L363.6,1275.1 L365.6,1275.0 L367.6,1275.0 L369.6,1274.9 L371.6,1274.9 L373.6,1274.8 L375.6,1274.8 L377.6,1274.7 L379.6,1274.6 L381.6,1274.6 L383.6,1274.5 L385.6,1274.5 L387.6,1274.4 L389.6,1274.3 L391.6,1274.3 L393.6,1274.2 L395.6,1274.1 L397.6,1274.1 L399.6,1274.0 L401.6,1273.9 L403.6,1273.9 L405.6,1273.8 L407.6,1273.7 L409.6,1273.7 L411.6,1273.6 L413.6,1273.5 L415.6,1273.5 L417.6,1273.4 L419.6,1273.3 L421.6,1273.2 L423.6,1273.2 L425.6,1273.1 L427.6,1273.0 L429.6,1273.0 L431.6,1272.9 L433.6,1272.8 L435.6,1272.7 L437.6,1272.7 L439.6,1272.6 L441.6,1272.5 L443.6,1272.4 L445.6,1272.4 L447.6,1272.3 L449.6,1272.2 L451.6,1272.1 L453.6,1272.1 L455.6,1272.0 L457.6,1271.9 L459.5,1271.8 L461.5,1271.7 L463.5,1271.7 L465.5,1271.6 L467.5,1271.5 L469.5,1271.4 L471.5,1271.3 L473.5,1271.3 L475.5,1271.2 L477.5,1271.1 L479.5,1271.0 L481.5,1270.9 L483.5,1270.8 L485.5,1270.7 L487.5,1270.7 L489.5,1270.6 L491.5,1270.5 L493.5,1270.4 L495.5,1270.3 L497.5,1270.2 L499.5,1270.1 L501.5,1270.0 L503.5,1269.9 L505.5,1269.8 L507.5,1269.7 L509.5,1269.6 L511.5,1269.5 L513.5,1269.4 L515.5,1269.3 L517.5,1269.2 L519.5,1269.1 L521.5,1269.0 L523.5,1268.9 L525.5,1268.8 L527.5,1268.7 L529.5,1268.6 L531.5,1268.5 L533.5,1268.4 L535.5,1268.3 L537.5,1268.2 L539.5,1268.1 L541.5,1268.0 L543.5,1268.0 L545.5,1267.9 L547.5,1267.8 L549.5,1267.7 L551.5,1267.6 L553.5,1267.5 L555.5,1267.5 L557.5,1267.4 L559.5,1267.3 L561.5,1267.3 L563.5,1267.2 L565.5,1267.1 L567.5,1267.1 L569.5,1267.0 L571.5,1266.9 L573.5,1266.9 L575.5,1266.8 L577.5,1266.7 L579.5,1266.7 L581.5,1266.6 L583.5,1266.5 L585.5,1266.5 L587.5,1266.4 L589.5,1266.3 L591.5,1266.3 L593.5,1266.2 L595.5,1266.1 L597.5,1266.1 L599.5,1266.0 L601.5,1266.0 L603.5,1265.9 L605.5,1265.9 L607.5,1265.8 L609.5,1265.7 L611.5,1265.7 L613.5,1265.6 L615.5,1265.6 L617.5,1265.5 L619.5,1265.5 L621.5,1265.5 L623.5,1265.4 L625.5,1265.4 L627.5,1265.3 L629.5,1265.3 L631.5,1265.3 L633.5,1265.3 L635.5,1265.2 L637.5,1265.2 L639.5,1265.2 L641.5,1265.2 L643.5,1265.2 L645.5,1265.1 L647.5,1265.1 L649.5,1265.1 L651.5,1265.1 L653.5,1265.1 L655.5,1265.1 L657.5,1265.2 L659.5,1265.2 L661.5,1265.2 L663.5,1265.2 L665.5,1265.2 L667.5,1265.3 L669.5,1265.3 L671.5,1265.3 L673.5,1265.4 L675.5,1265.4 L677.5,1265.4 L679.5,1265.5 L681.5,1265.5 L683.5,1265.6 L685.5,1265.6 L687.5,1265.7 L689.5,1265.7 L691.5,1265.8 L693.5,1265.9 L695.5,1265.9 L697.5,1266.0 L699.5,1266.1 L701.5,1266.1 L703.5,1266.2 L705.5,1266.3 L707.5,1266.3 L709.5,1266.4 L711.5,1266.5 L713.5,1266.5 L715.5,1266.6 L717.5,1266.7 L719.4,1266.8 L721.4,1266.8 L723.4,1266.9 L725.4,1267.0 L727.4,1267.1 L729.4,1267.1 L731.4,1267.2 L733.4,1267.3 L735.4,1267.4 L737.4,1267.5 L739.4,1267.5 L741.4,1267.6 L743.4,1267.7 L745.4,1267.8 L747.4,1267.9 L749.4,1268.0 L751.4,1268.1 L753.4,1268.2 L755.4,1268.3 L757.4,1268.4 L759.4,1268.5 L761.4,1268.7 L763.4,1268.8 L765.4,1268.9 L767.4,1269.0 L769.4,1269.2 L771.4,1269.3 L773.4,1269.4 L775.4,1269.6 L777.4,1269.7 L779.4,1269.9 L781.4,1270.0 L783.4,1270.1 L785.4,1270.3 L787.4,1270.4 L789.4,1270.5 L791.4,1270.7 L793.4,1270.8 L795.4,1270.9 L797.4,1271.1 L799.4,1271.2 L801.4,1271.3 L803.4,1271.4 L805.4,1271.5 L807.4,1271.6 L809.4,1271.7 L811.3,1271.8 L813.3,1271.9 L815.3,1272.0 L817.3,1272.0 L819.3,1272.1 L821.3,1272.2 L823.3,1272.2 L825.3,1272.2 L827.3,1272.3 L829.3,1272.3 L831.3,1272.3 L833.3,1272.3 L835.3,1272.3 L837.3,1272.3 L839.3,1272.3 L841.3,1272.3 L843.3,1272.3 L845.3,1272.3 L847.4,1272.2 L849.4,1272.2 L851.4,1272.1 L853.4,1272.1 L855.4,1272.0 L857.4,1271.9 L859.3,1271.9 L861.3,1271.8 L863.3,1271.7 L865.3,1271.5 L867.3,1271.4 L869.3,1271.2 L871.3,1271.0 L873.3,1270.8 L875.2,1270.5 L877.2,1270.3 L879.2,1270.0 L881.2,1269.7 L883.2,1269.5 L885.2,1269.2 L887.1,1268.9 L889.1,1268.7 L891.1,1268.4 L893.1,1268.1 L895.1,1267.9 L897.1,1267.6 L899.0,1267.4 L901.0,1267.1 L903.0,1266.8 L905.0,1266.5 L907.0,1266.2 L908.9,1265.9 L910.9,1265.6 L912.9,1265.3 L914.8,1264.9 L916.8,1264.6 L918.8,1264.2 L920.8,1263.8 L922.7,1263.5 L924.7,1263.1 L926.6,1262.7 L928.6,1262.2 L930.5,1261.8 L932.5,1261.4 L934.5,1260.9 L936.4,1260.4 L938.3,1260.0 L940.3,1259.5 L942.2,1258.9 L944.2,1258.4 L946.1,1257.9 L948.0,1257.3 L949.9,1256.7 L951.8,1256.1 L953.7,1255.5 L955.6,1254.8 L957.5,1254.1 L959.3,1253.4 L961.2,1252.7 L963.0,1251.9 L964.8,1251.1 L966.7,1250.3 L968.5,1249.5 L970.2,1248.6 L972.0,1247.6 L973.8,1246.7 L975.5,1245.7 L977.2,1244.7 L979.0,1243.6 L980.7,1242.6 L982.3,1241.5 L984.0,1240.3 L985.6,1239.2 L987.2,1238.0 L988.8,1236.8 L990.4,1235.6 L992.0,1234.3 L993.5,1233.1 L995.0,1231.8 L996.5,1230.4 L997.9,1229.1 L999.4,1227.7 L1000.8,1226.3 L1002.2,1224.9 L1003.6,1223.4 L1004.9,1221.9 L1006.3,1220.5 L1007.6,1219.0 L1008.9,1217.4 L1010.2,1215.9 L1011.5,1214.4 L1012.8,1212.8 L1014.0,1211.3 L1015.3,1209.7 L1016.5,1208.1 L1017.8,1206.6 L1019.0,1205.0 L1020.2,1203.4 L1021.4,1201.8 L1022.7,1200.2 L1023.9,1198.7 L1025.1,1197.1 L1026.3,1195.5 L1027.5,1193.8 L1028.6,1192.2 L1029.8,1190.6 L1031.0,1189.0 L1032.1,1187.3 L1033.2,1185.7 L1034.4,1184.0 L1035.5,1182.4 L1036.6,1180.7 L1037.6,1179.0 L1038.7,1177.3 L1039.8,1175.6 L1040.8,1173.9 L1041.9,1172.2 L1043.0,1170.6 L1044.0,1168.9 L1045.1,1167.2 L1046.1,1165.5 L1047.2,1163.8 L1048.3,1162.1 L1049.3,1160.4 L1050.4,1158.7 L1051.4,1157.0 L1052.5,1155.3 L1053.6,1153.6 L1054.6,1151.9 L1055.7,1150.2 L1056.7,1148.5 L1057.8,1146.8 L1058.8,1145.0 L1059.8,1143.3 L1060.9,1141.6 L1061.9,1139.9 L1062.9,1138.2 L1063.9,1136.5 L1064.9,1134.7 L1065.9,1133.0 L1066.9,1131.3 L1067.9,1129.5 L1068.9,1127.8 L1069.8,1126.0 L1070.8,1124.3 L1071.8,1122.5 L1072.7,1120.8 L1073.7,1119.0 L1074.6,1117.2 L1075.6,1115.5 L1076.5,1113.7 L1077.4,1111.9 L1078.4,1110.2 L1079.3,1108.4 L1080.2,1106.6 L1081.1,1104.8 L1082.0,1103.0 L1082.9,1101.3 L1083.8,1099.5 L1084.7,1097.7 L1085.6,1095.9 L1086.4,1094.1 L1087.3,1092.3 L1088.2,1090.5 L1089.0,1088.7 L1089.9,1086.9 L1090.8,1085.1 L1091.6,1083.2 L1092.4,1081.4 L1093.3,1079.6 L1094.1,1077.8 L1094.9,1076.0 L1095.8,1074.1 L1096.6,1072.3 L1097.4,1070.5 L1098.2,1068.7 L1099.0,1066.8 L1099.8,1065.0 L1100.6,1063.2 L1101.4,1061.3 L1102.1,1059.5 L1102.9,1057.6 L1103.7,1055.8 L1104.4,1053.9 L1105.2,1052.1 L1105.9,1050.2 L1106.7,1048.4 L1107.4,1046.5 L1108.2,1044.6 L1108.9,1042.8 L1109.6,1040.9 L1110.4,1039.1 L1111.1,1037.2 L1111.8,1035.3 L1112.6,1033.5 L1113.3,1031.6 L1114.0,1029.7 L1114.7,1027.9 L1115.5,1026.0 L1116.2,1024.2 L1116.9,1022.3 L1117.6,1020.4 L1118.4,1018.6 L1119.1,1016.7 L1119.8,1014.8 L1120.5,1013.0 L1121.2,1011.1 L1122.0,1009.2 L1122.7,1007.4 L1123.4,1005.5 L1124.1,1003.6 L1124.8,1001.8 L1125.5,999.9 L1126.3,998.0 L1127.0,996.2 L1127.7,994.3 L1128.4,992.4 L1129.1,990.5 L1129.8,988.7 L1130.6,986.8 L1131.3,984.9 L1132.0,983.1 L1132.7,981.2 L1133.4,979.3 L1134.1,977.5 L1134.8,975.6 L1135.5,973.7 L1136.2,971.8 L1136.9,970.0 L1137.6,968.1 L1138.3,966.2 L1138.9,964.3 L1139.6,962.4 L1140.2,960.5 L1140.9,958.6 L1141.5,956.7 L1142.1,954.8 L1142.7,952.9 L1143.3,951.0 L1143.9,949.1 L1144.6,947.2 L1145.2,945.3 L1145.8,943.4 L1146.4,941.5 L1147.0,939.6 L1147.7,937.7 L1148.3,935.8 L1149.0,933.9 L1149.6,932.0 L1150.3,930.2 L1151.0,928.3 L1151.7,926.4 L1152.4,924.6 L1153.2,922.7 L1153.9,920.8 L1154.6,919.0 L1155.4,917.1 L1156.1,915.3 L1156.9,913.4 L1157.6,911.5 L1158.3,909.7 L1159.0,907.8 L1159.8,905.9 L1160.5,904.1 L1161.1,902.2 L1161.8,900.3 L1162.5,898.4 L1163.1,896.5 L1163.8,894.6 L1164.4,892.7 L1165.1,890.9 L1165.8,889.0 L1166.4,887.1 L1167.1,885.2 L1167.8,883.3 L1168.5,881.5 L1169.3,879.6 L1170.0,877.8 L1170.8,875.9 L1171.6,874.1 L1172.5,872.3 L1173.3,870.5 L1174.2,868.7 L1175.1,866.9 L1176.1,865.2 L1177.1,863.5 L1178.1,861.8 L1179.2,860.1 L1180.3,858.5 L1181.4,856.8 L1182.6,855.2 L1183.7,853.6 L1184.9,852.0 L1186.2,850.4 L1187.5,848.8 L1188.9,847.5 L1190.7,846.5 L1192.6,845.9 L1194.5,846.1 L1196.4,846.9 L1198.0,848.1 L1199.3,849.6 L1200.5,851.3 L1201.7,852.9 L1202.7,854.6 L1203.7,856.3 L1204.6,858.1 L1205.4,859.8 L1206.2,861.7 L1206.9,863.5 L1207.6,865.4 L1208.3,867.3 L1208.9,869.1 L1209.6,871.0 L1210.2,872.9 L1210.7,874.9 L1211.3,876.8 L1211.8,878.7 L1212.3,880.6 L1212.8,882.6 L1213.3,884.5 L1213.8,886.5 L1214.3,888.4 L1214.7,890.3 L1215.2,892.3 L1215.6,894.2 L1216.1,896.2 L1216.5,898.1 L1216.9,900.1 L1217.3,902.1 L1217.8,904.0 L1218.2,906.0 L1218.6,907.9 L1219.0,909.9 L1219.4,911.8 L1219.8,913.8 L1220.2,915.8 L1220.6,917.7 L1221.0,919.7 L1221.4,921.6 L1221.8,923.6 L1222.2,925.6 L1222.6,927.5 L1222.9,929.5 L1223.3,931.5 L1223.7,933.4 L1224.1,935.4 L1224.5,937.4 L1224.8,939.3 L1225.2,941.3 L1225.6,943.2 L1226.0,945.2 L1226.3,947.2 L1226.7,949.1 L1227.1,951.1 L1227.4,953.1 L1227.8,955.0 L1228.2,957.0 L1228.6,959.0 L1228.9,960.9 L1229.3,962.9 L1229.7,964.9 L1230.0,966.8 L1230.4,968.8 L1230.8,970.8 L1231.1,972.7 L1231.5,974.7 L1231.8,976.7 L1232.2,978.6 L1232.6,980.6 L1232.9,982.6 L1233.3,984.5 L1233.6,986.5 L1234.0,988.5 L1234.4,990.5 L1234.7,992.4 L1235.1,994.4 L1235.4,996.4 L1235.8,998.3 L1236.1,1000.3 L1236.5,1002.3 L1236.8,1004.2 L1237.1,1006.2 L1237.5,1008.2 L1237.8,1010.2 L1238.2,1012.1 L1238.5,1014.1 L1238.8,1016.1 L1239.2,1018.0 L1239.5,1020.0 L1239.8,1022.0 L1240.2,1024.0 L1240.5,1025.9 L1240.8,1027.9 L1241.1,1029.9 L1241.5,1031.9 L1241.8,1033.8 L1242.1,1035.8 L1242.4,1037.8 L1242.7,1039.7 L1243.1,1041.7 L1243.4,1043.7 L1243.7,1045.7 L1244.0,1047.6 L1244.4,1049.6 L1244.7,1051.6 L1245.0,1053.6 L1245.4,1055.5 L1245.7,1057.5 L1246.0,1059.5 L1246.3,1061.5 L1246.7,1063.4 L1247.0,1065.4 L1247.3,1067.4 L1247.7,1069.4 L1248.0,1071.3 L1248.3,1073.3 L1248.7,1075.3 L1249.0,1077.2 L1249.3,1079.2 L1249.7,1081.2 L1250.0,1083.2 L1250.3,1085.1 L1250.7,1087.1 L1251.0,1089.1 L1251.4,1091.0 L1251.7,1093.0 L1252.1,1095.0 L1252.4,1097.0 L1252.8,1098.9 L1253.1,1100.9 L1253.5,1102.9 L1253.9,1104.8 L1254.2,1106.8 L1254.6,1108.8 L1255.0,1110.7 L1255.4,1112.7 L1255.7,1114.6 L1256.1,1116.6 L1256.5,1118.6 L1256.9,1120.5 L1257.3,1122.5 L1257.7,1124.5 L1258.2,1126.4 L1258.6,1128.4 L1259.0,1130.3 L1259.4,1132.3 L1259.9,1134.2 L1260.3,1136.2 L1260.7,1138.1 L1261.2,1140.1 L1261.6,1142.0 L1262.1,1144.0 L1262.6,1145.9 L1263.1,1147.9 L1263.6,1149.8 L1264.1,1151.7 L1264.6,1153.7 L1265.1,1155.6 L1265.7,1157.5 L1266.2,1159.4 L1266.8,1161.3 L1267.3,1163.3 L1267.9,1165.2 L1268.5,1167.1 L1269.1,1169.0 L1269.8,1170.9 L1270.4,1172.8 L1271.0,1174.7 L1271.7,1176.6 L1272.3,1178.5 L1273.0,1180.4 L1273.7,1182.2 L1274.3,1184.1 L1275.0,1186.0 L1275.7,1187.9 L1276.4,1189.8 L1277.1,1191.6 L1277.8,1193.5 L1278.5,1195.4 L1279.2,1197.3 L1280.0,1199.1 L1280.7,1201.0 L1281.4,1202.9 L1282.2,1204.7 L1282.9,1206.6 L1283.7,1208.4 L1284.5,1210.3 L1285.3,1212.1 L1286.1,1213.9 L1286.9,1215.8 L1287.7,1217.6 L1288.6,1219.4 L1289.5,1221.2 L1290.3,1223.0 L1291.2,1224.8 L1292.2,1226.6 L1293.1,1228.3 L1294.1,1230.1 L1295.0,1231.8 L1296.0,1233.6 L1297.1,1235.3 L1298.1,1237.0 L1299.2,1238.7 L1300.3,1240.4 L1301.4,1242.0 L1302.5,1243.7 L1303.7,1245.3 L1304.9,1246.9 L1306.1,1248.4 L1307.4,1250.0 L1308.7,1251.5 L1310.0,1253.0 L1311.4,1254.5 L1312.8,1256.0 L1314.2,1257.4 L1315.7,1258.8 L1317.2,1260.2 L1318.7,1261.6 L1320.2,1262.8 L1321.8,1264.0 L1323.4,1265.1 L1325.1,1266.1 L1326.7,1267.1 L1328.4,1268.0 L1330.2,1268.9 L1332.0,1269.8 L1333.9,1270.6 L1335.8,1271.4 L1337.7,1272.2 L1339.6,1272.9 L1341.5,1273.5 L1343.4,1274.1 L1345.4,1274.7 L1347.3,1275.2 L1349.2,1275.6 L1351.2,1276.0 L1353.1,1276.4 L1355.1,1276.8 L1357.1,1277.2 L1359.0,1277.5 L1361.0,1277.8 L1363.0,1278.1 L1365.0,1278.4 L1367.0,1278.6 L1369.0,1278.8 L1370.9,1279.0 L1372.9,1279.2 L1374.9,1279.4 L1376.9,1279.5 L1378.9,1279.6 L1380.9,1279.8 L1382.9,1279.9 L1384.9,1280.0 L1386.9,1280.1 L1388.9,1280.2 L1390.9,1280.3 L1392.9,1280.4 L1394.9,1280.5 L1396.9,1280.6 L1398.9,1280.6 L1400.9,1280.7 L1402.9,1280.8 L1404.9,1280.9 L1406.9,1280.9 L1408.9,1281.0 L1410.9,1281.1 L1412.9,1281.1 L1414.9,1281.2 L1416.9,1281.3 L1418.9,1281.3 L1420.9,1281.4 L1422.9,1281.4 L1424.9,1281.5 L1426.9,1281.5 L1428.9,1281.6 L1430.9,1281.6 L1432.9,1281.7 L1434.9,1281.7 L1436.9,1281.7 L1438.9,1281.8 L1440.9,1281.8 L1442.9,1281.9 L1444.9,1281.9 L1446.9,1281.9 L1448.9,1282.0 L1450.9,1282.0 L1452.9,1282.1 L1454.9,1282.1 L1456.9,1282.1 L1458.9,1282.2 L1460.9,1282.2 L1462.9,1282.2 L1464.9,1282.3 L1466.9,1282.3 L1468.9,1282.3 L1470.9,1282.4 L1472.9,1282.4 L1474.9,1282.4 L1476.9,1282.5 L1478.9,1282.5 L1480.9,1282.5 L1482.9,1282.6 L1484.9,1282.6 L1486.9,1282.6 L1488.9,1282.7 L1490.9,1282.7 L1492.9,1282.7 L1494.9,1282.7 L1496.9,1282.8 L1498.9,1282.8 L1500.9,1282.8 L1502.9,1282.8 L1504.9,1282.9 L1506.9,1282.9 L1508.9,1282.9 L1510.9,1282.9 L1512.9,1282.9 L1514.9,1282.9 L1516.9,1282.9 L1518.9,1283.0 L1520.9,1283.0 L1522.9,1283.0 L1524.9,1283.0 L1526.9,1283.0 L1528.9,1283.0 L1530.9,1283.0 L1532.9,1283.0 L1534.9,1283.0 L1536.9,1283.0 L1538.9,1283.0 L1540.9,1283.0 L1542.9,1283.0 L1544.9,1283.0 L1546.9,1283.0 L1548.9,1283.0 L1550.9,1283.0 L1552.9,1283.0 L1554.9,1283.0 L1556.9,1283.0 L1558.9,1283.0 L1560.9,1283.0 L1562.9,1283.0 L1564.9,1283.0 L1566.9,1283.0 L1568.9,1283.0 L1570.9,1283.0 L1572.9,1283.0 L1574.9,1283.0 L1576.9,1283.0 L1578.9,1283.0 L1580.9,1283.0 L1582.9,1283.0 L1584.9,1283.0 L1586.9,1283.0 L1588.9,1283.0 L1590.9,1283.0 L1592.9,1283.0 L1594.9,1283.0 L1596.9,1283.0 L1598.9,1283.0 L1600.9,1283.0 L1602.9,1283.0 L1604.9,1283.0 L1606.9,1283.0 L1608.9,1283.0 L1610.9,1283.0 L1612.9,1283.0 L1614.9,1283.0 L1616.9,1283.0 L1618.9,1283.0 L1620.9,1283.0 L1622.9,1283.0 L1624.9,1283.0 L1626.9,1283.0 L1628.9,1283.0 L1630.9,1283.0 L1632.9,1283.0 L1634.9,1283.0 L1636.9,1283.0 L1638.9,1283.0 L1640.9,1283.0 L1642.9,1283.0 L1644.9,1283.0 L1646.9,1283.0 L1648.9,1283.0 L1650.9,1283.0 L1652.9,1283.0 L1654.9,1283.0 L1656.9,1283.0 L1658.9,1283.0 L1660.9,1283.0 L1662.9,1283.0 L1664.9,1282.9 L1666.9,1282.9 L1668.9,1282.9 L1670.9,1282.9 L1672.9,1282.9 L1674.9,1282.9 L1676.9,1282.9 L1678.9,1282.9 L1680.9,1282.8 L1682.9,1282.8 L1684.9,1282.8 L1686.9,1282.8 L1688.9,1282.8 L1690.9,1282.7 L1692.9,1282.7 L1695.0,1282.7 L1697.0,1282.7 L1699.0,1282.6 L1701.0,1282.6 L1703.0,1282.6 L1705.0,1282.6 L1707.0,1282.6 L1709.0,1282.5 L1711.0,1282.5 L1713.0,1282.5 L1715.0,1282.5 L1717.0,1282.4 L1719.0,1282.4 L1721.0,1282.4 L1723.0,1282.4 L1725.0,1282.3 L1727.0,1282.3 L1729.0,1282.3 L1731.0,1282.3 L1733.0,1282.2 L1735.0,1282.2 L1737.0,1282.2 L1739.0,1282.2 L1741.0,1282.2 L1743.0,1282.1 L1745.0,1282.1 L1747.0,1282.1 L1749.0,1282.1 L1751.0,1282.1 L1753.0,1282.1 L1755.0,1282.0 L1757.0,1282.0 L1759.0,1282.0 L1761.0,1282.0 L1763.0,1282.0 L1765.0,1282.0 L1767.0,1282.0 L1769.0,1281.9 L1771.0,1281.9 L1773.0,1281.9 L1775.0,1281.9 L1777.0,1281.9 L1779.0,1281.9 L1781.0,1281.9 L1783.0,1281.9 L1785.0,1281.8 L1787.0,1281.8 L1789.0,1281.8 L1791.0,1281.8 L1793.0,1281.8 L1795.0,1281.8 L1797.0,1281.8 L1799.0,1281.8 L1801.0,1281.8 L1803.0,1281.7 L1805.0,1281.7 L1807.0,1281.7 L1809.0,1281.7 L1811.0,1281.7 L1813.0,1281.7 L1815.0,1281.7 L1817.0,1281.7 L1819.0,1281.7 L1821.0,1281.7 L1823.0,1281.7 L1825.0,1281.7 L1827.0,1281.6 L1829.0,1281.6 L1831.0,1281.6 L1833.0,1281.6 L1835.0,1281.6 L1837.0,1281.6 L1839.0,1281.6 L1841.0,1281.6 L1843.0,1281.6 L1845.0,1281.6 L1847.0,1281.6 L1849.0,1281.6 L1851.0,1281.6 L1853.0,1281.6 L1855.0,1281.6 L1857.0,1281.6 L1859.0,1281.6 L1861.0,1281.6 L1863.0,1281.6 L1865.0,1281.6 L1867.0,1281.6 L1869.0,1281.6 L1871.0,1281.6 L1873.0,1281.6 L1875.0,1281.6 L1877.0,1281.6 L1879.0,1281.6 L1881.0,1281.6 L1883.0,1281.6 L1885.0,1281.6 L1887.0,1281.6 L1889.0,1281.6 L1891.0,1281.6 L1893.0,1281.6 L1895.0,1281.6 L1897.0,1281.6 L1899.0,1281.6 L1901.0,1281.6 L1903.0,1281.6 L1905.0,1281.6 L1907.0,1281.6 L1909.0,1281.6 L1911.0,1281.6 L1913.0,1281.6 L1915.0,1281.6 L1917.0,1281.6 L1919.0,1281.6 L1921.0,1281.6 L1923.0,1281.6 L1925.0,1281.6 L1927.0,1281.6 L1929.0,1281.6 L1931.0,1281.6 L1933.0,1281.6 L1935.0,1281.6 L1937.0,1281.6 L1939.0,1281.6 L1941.0,1281.6 L1943.0,1281.6 L1945.0,1281.6 L1947.0,1281.6 L1949.0,1281.6 L1951.0,1281.6 L1953.0,1281.6 L1955.0,1281.6 L1957.0,1281.6 L1959.0,1281.6 L1961.0,1281.6 L1963.0,1281.6 L1965.0,1281.6 L1967.0,1281.6 L1969.0,1281.6 L1971.0,1281.6 L1973.0,1281.6 L1975.0,1281.6 L1977.0,1281.6 L1979.0,1281.6 L1981.0,1281.6 L1983.0,1281.6 L1985.0,1281.6 L1987.0,1281.6 L1989.0,1281.6 L1991.0,1281.6 L1993.0,1281.6 L1995.0,1281.6 L1997.0,1281.6 L1999.0,1281.6 L2000.9,1281.6 L2002.9,1281.6 L2004.8,1281.6 L2006.6,1281.6 L2008.4,1281.6 L2010.1,1281.6 L2011.6,1281.6 L2013.1,1281.6 L2014.3,1281.6 L2015.4,1281.6"/>
</g>

<g shape-rendering="auto">
<rect x="188.1" y="1288.1" width="1799.0" height="2.7" fill="#ececec"/>
<rect x="180.4" y="1244.8" width="8.7" height="2.6" fill="#808080"/>
<rect x="179.4" y="1247.4" width="9.7" height="5.1" fill="#000"/>
<rect x="172.4" y="1209.5" width="16.7" height="2.6" fill="#808080"/>
<rect x="171.4" y="1212.1" width="17.7" height="5.1" fill="#000"/>
<rect x="180.4" y="1174.1" width="8.7" height="2.6" fill="#808080"/>
<rect x="179.4" y="1176.7" width="9.7" height="5.1" fill="#000"/>
<rect x="180.4" y="1138.8" width="8.7" height="2.6" fill="#808080"/>
<rect x="179.4" y="1141.4" width="9.7" height="5.1" fill="#000"/>
<rect x="180.4" y="1103.4" width="8.7" height="2.6" fill="#808080"/>
<rect x="179.4" y="1106.0" width="9.7" height="5.1" fill="#000"/>
<rect x="172.4" y="1068.0" width="16.7" height="2.6" fill="#808080"/>
<rect x="171.4" y="1070.6" width="17.7" height="5.1" fill="#000"/>
<rect x="180.4" y="1032.7" width="8.7" height="2.6" fill="#808080"/>
<rect x="179.4" y="1035.3" width="9.7" height="5.1" fill="#000"/>
<rect x="180.4" y="997.3" width="8.7" height="2.6" fill="#808080"/>
<rect x="179.4" y="999.9" width="9.7" height="5.1" fill="#000"/>
<rect x="180.4" y="962.0" width="8.7" height="2.6" fill="#808080"/>
<rect x="179.4" y="964.6" width="9.7" height="5.1" fill="#000"/>
<rect x="172.4" y="926.6" width="16.7" height="2.6" fill="#808080"/>
<rect x="171.4" y="929.2" width="17.7" height="5.1" fill="#000"/>
<rect x="180.4" y="891.2" width="8.7" height="2.6" fill="#808080"/>
<rect x="179.4" y="893.8" width="9.7" height="5.1" fill="#000"/>
<rect x="180.4" y="855.9" width="8.7" height="2.6" fill="#808080"/>
<rect x="179.4" y="858.5" width="9.7" height="5.1" fill="#000"/>
<rect x="180.4" y="820.5" width="8.7" height="2.6" fill="#808080"/>
<rect x="179.4" y="823.1" width="9.7" height="5.1" fill="#000"/>
<rect x="172.4" y="785.2" width="16.7" height="2.6" fill="#808080"/>
<rect x="171.4" y="787.8" width="17.7" height="5.1" fill="#000"/>
<rect x="180.4" y="749.8" width="8.7" height="2.6" fill="#808080"/>
<rect x="179.4" y="752.4" width="9.7" height="5.1" fill="#000"/>
<rect x="180.4" y="714.4" width="8.7" height="2.6" fill="#808080"/>
<rect x="179.4" y="717.0" width="9.7" height="5.1" fill="#000"/>
<rect x="180.4" y="679.1" width="8.7" height="2.6" fill="#808080"/>
<rect x="179.4" y="681.7" width="9.7" height="5.1" fill="#000"/>
<rect x="172.4" y="643.7" width="16.7" height="2.6" fill="#808080"/>
<rect x="171.4" y="646.3" width="17.7" height="5.1" fill="#000"/>
<rect x="180.4" y="608.4" width="8.7" height="2.6" fill="#808080"/>
<rect x="179.4" y="611.0" width="9.7" height="5.1" fill="#000"/>
<rect x="180.4" y="573.0" width="8.7" height="2.6" fill="#808080"/>
<rect x="179.4" y="575.6" width="9.7" height="5.1" fill="#000"/>
<rect x="180.4" y="537.6" width="8.7" height="2.6" fill="#808080"/>
<rect x="179.4" y="540.2" width="9.7" height="5.1" fill="#000"/>
<rect x="172.4" y="502.3" width="16.7" height="2.6" fill="#808080"/>
<rect x="171.4" y="504.9" width="17.7" height="5.1" fill="#000"/>
<rect x="180.4" y="466.9" width="8.7" height="2.6" fill="#808080"/>
<rect x="179.4" y="469.5" width="9.7" height="5.1" fill="#000"/>
<rect x="180.4" y="431.6" width="8.7" height="2.6" fill="#808080"/>
<rect x="179.4" y="434.2" width="9.7" height="5.1" fill="#000"/>
<rect x="180.4" y="396.2" width="8.7" height="2.6" fill="#808080"/>
<rect x="179.4" y="398.8" width="9.7" height="5.1" fill="#000"/>
<rect x="172.4" y="360.8" width="16.7" height="2.6" fill="#808080"/>
<rect x="171.4" y="363.4" width="17.7" height="5.1" fill="#000"/>
<rect x="180.4" y="325.5" width="8.7" height="2.6" fill="#808080"/>
<rect x="179.4" y="328.1" width="9.7" height="5.1" fill="#000"/>
<rect x="180.4" y="290.1" width="8.7" height="2.6" fill="#808080"/>
<rect x="179.4" y="292.7" width="9.7" height="5.1" fill="#000"/>
<rect x="180.4" y="254.8" width="8.7" height="2.6" fill="#808080"/>
<rect x="179.4" y="257.4" width="9.7" height="5.1" fill="#000"/>
<rect x="172.4" y="219.4" width="16.7" height="2.6" fill="#808080"/>
<rect x="171.4" y="222.0" width="17.7" height="5.1" fill="#000"/>
<rect x="180.4" y="184.0" width="8.7" height="2.6" fill="#808080"/>
<rect x="179.4" y="186.6" width="9.7" height="5.1" fill="#000"/>
<rect x="180.4" y="148.7" width="8.7" height="2.6" fill="#808080"/>
<rect x="179.4" y="151.3" width="9.7" height="5.1" fill="#000"/>
<rect x="180.4" y="113.3" width="8.7" height="2.6" fill="#808080"/>
<rect x="179.4" y="115.9" width="9.7" height="5.1" fill="#000"/>
<rect x="172.4" y="78.0" width="16.7" height="2.6" fill="#808080"/>
<rect x="171.4" y="80.6" width="17.7" height="5.1" fill="#000"/>
<rect x="1986.1" y="1218.1" width="7.4" height="2.6" fill="#808080"/>
<rect x="1986.1" y="1220.7" width="8.4" height="5.1" fill="#000"/>
<rect x="1986.1" y="1156.2" width="7.4" height="2.6" fill="#808080"/>
<rect x="1986.1" y="1158.8" width="8.4" height="5.1" fill="#000"/>
<rect x="1986.1" y="1094.4" width="7.4" height="2.6" fill="#808080"/>
<rect x="1986.1" y="1097.0" width="8.4" height="5.1" fill="#000"/>
<rect x="1986.1" y="1032.5" width="15.4" height="2.6" fill="#808080"/>
<rect x="1986.1" y="1035.1" width="16.4" height="5.1" fill="#000"/>
<rect x="1986.1" y="970.6" width="7.4" height="2.6" fill="#808080"/>
<rect x="1986.1" y="973.2" width="8.4" height="5.1" fill="#000"/>
<rect x="1986.1" y="908.7" width="7.4" height="2.6" fill="#808080"/>
<rect x="1986.1" y="911.3" width="8.4" height="5.1" fill="#000"/>
<rect x="1986.1" y="846.8" width="7.4" height="2.6" fill="#808080"/>
<rect x="1986.1" y="849.4" width="8.4" height="5.1" fill="#000"/>
<rect x="1986.1" y="785.0" width="15.4" height="2.6" fill="#808080"/>
<rect x="1986.1" y="787.6" width="16.4" height="5.1" fill="#000"/>
<rect x="1986.1" y="723.1" width="7.4" height="2.6" fill="#808080"/>
<rect x="1986.1" y="725.7" width="8.4" height="5.1" fill="#000"/>
<rect x="1986.1" y="661.2" width="7.4" height="2.6" fill="#808080"/>
<rect x="1986.1" y="663.8" width="8.4" height="5.1" fill="#000"/>
<rect x="1986.1" y="599.3" width="7.4" height="2.6" fill="#808080"/>
<rect x="1986.1" y="601.9" width="8.4" height="5.1" fill="#000"/>
<rect x="1986.1" y="537.4" width="15.4" height="2.6" fill="#808080"/>
<rect x="1986.1" y="540.0" width="16.4" height="5.1" fill="#000"/>
<rect x="1986.1" y="475.6" width="7.4" height="2.6" fill="#808080"/>
<rect x="1986.1" y="478.2" width="8.4" height="5.1" fill="#000"/>
<rect x="1986.1" y="413.7" width="7.4" height="2.6" fill="#808080"/>
<rect x="1986.1" y="416.3" width="8.4" height="5.1" fill="#000"/>
<rect x="1986.1" y="351.8" width="7.4" height="2.6" fill="#808080"/>
<rect x="1986.1" y="354.4" width="8.4" height="5.1" fill="#000"/>
<rect x="1986.1" y="289.9" width="15.4" height="2.6" fill="#808080"/>
<rect x="1986.1" y="292.5" width="16.4" height="5.1" fill="#000"/>
<rect x="1986.1" y="228.0" width="7.4" height="2.6" fill="#808080"/>
<rect x="1986.1" y="230.6" width="8.4" height="5.1" fill="#000"/>
<rect x="1986.1" y="166.2" width="7.4" height="2.6" fill="#808080"/>
<rect x="1986.1" y="168.8" width="8.4" height="5.1" fill="#000"/>
<rect x="1986.1" y="104.3" width="7.4" height="2.6" fill="#808080"/>
<rect x="1986.1" y="106.9" width="8.4" height="5.1" fill="#000"/>
<rect x="367.6" y="1286.7" width="6.8" height="17.4" fill="#000"/>
<rect x="546.7" y="1286.7" width="6.8" height="9.4" fill="#000"/>
<rect x="725.8" y="1286.7" width="6.8" height="17.4" fill="#000"/>
<rect x="904.9" y="1286.7" width="6.8" height="9.4" fill="#000"/>
<rect x="1084.0" y="1286.7" width="6.8" height="17.4" fill="#000"/>
<rect x="1263.2" y="1286.7" width="6.8" height="9.4" fill="#000"/>
<rect x="1442.3" y="1286.7" width="6.8" height="17.4" fill="#000"/>
<rect x="1621.4" y="1286.7" width="6.8" height="9.4" fill="#000"/>
<rect x="1800.5" y="1286.7" width="6.8" height="17.4" fill="#000"/>
<rect x="180.4" y="43.0" width="8.7" height="5.3" fill="#000"/>
<rect x="180.4" y="48.3" width="8.7" height="2.5" fill="#505050"/>
<rect x="1986.1" y="43.0" width="16.4" height="5.3" fill="#000"/>
<rect x="1986.1" y="48.3" width="15.4" height="2.5" fill="#505050"/>
<rect x="180.4" y="1282.1" width="8.7" height="5.6" fill="#000"/>
<rect x="1986.1" y="1282.1" width="16.4" height="5.6" fill="#000"/>
<rect x="188.1" y="1286.7" width="5.3" height="9.4" fill="#000"/>
<rect x="193.4" y="1286.7" width="2.5" height="9.4" fill="#555"/>
<rect x="1979.1" y="1286.7" width="8.0" height="9.4" fill="#000"/>
<rect x="188.1" y="43.0" width="1799.0" height="5.3" fill="#000"/>
<rect x="188.1" y="48.3" width="1799.0" height="2.5" fill="#505050"/>
<rect x="188.1" y="1282.1" width="1799.0" height="5.6" fill="#000"/>
<rect x="193.2" y="43.0" width="2.7" height="1244.7" fill="#555"/>
<rect x="188.1" y="43.0" width="5.1" height="1244.7" fill="#000"/>
<rect x="1979.1" y="43.0" width="8.0" height="1244.7" fill="#000"/>
</g>
<g class="tick">
<text transform="translate(169.6,1230.3) scale(0.85,0.985)" text-anchor="end">−<tspan dx="-6">60</tspan></text>
<text transform="translate(169.6,1088.8) scale(0.85,0.985)" text-anchor="end">−<tspan dx="-6">40</tspan></text>
<text transform="translate(169.6,947.4) scale(0.85,0.985)" text-anchor="end">−<tspan dx="-6">20</tspan></text>
<text transform="translate(169.6,806.0) scale(0.85,0.985)" text-anchor="end">0</text>
<text transform="translate(169.6,664.5) scale(0.85,0.985)" text-anchor="end">20</text>
<text transform="translate(169.6,523.1) scale(0.85,0.985)" text-anchor="end">40</text>
<text transform="translate(169.6,381.6) scale(0.85,0.985)" text-anchor="end">60</text>
<text transform="translate(169.6,240.2) scale(0.85,0.985)" text-anchor="end">80</text>
<text transform="translate(169.6,98.8) scale(0.85,0.985)" text-anchor="end">100</text>
<text transform="translate(2011.8,1300.7) scale(0.85,0.985)" text-anchor="start">0</text>
<text transform="translate(2011.8,1053.2) scale(0.85,0.985)" text-anchor="start">2</text>
<text transform="translate(2011.8,805.7) scale(0.85,0.985)" text-anchor="start">4</text>
<text transform="translate(2011.8,558.1) scale(0.85,0.985)" text-anchor="start">6</text>
<text transform="translate(2011.8,310.6) scale(0.85,0.985)" text-anchor="start">8</text>
<text transform="translate(2011.8,63.1) scale(0.85,0.985)" text-anchor="start">10</text>
<text transform="translate(374.7,1345.6) scale(0.85,0.985)" text-anchor="middle">150</text>
<text transform="translate(732.9,1345.6) scale(0.85,0.985)" text-anchor="middle">200</text>
<text transform="translate(1091.2,1345.6) scale(0.85,0.985)" text-anchor="middle">250</text>
<text transform="translate(1449.4,1345.6) scale(0.85,0.985)" text-anchor="middle">300</text>
<text transform="translate(1807.6,1345.6) scale(0.85,0.985)" text-anchor="middle">350</text>
</g>
<text class="axl" transform="translate(85.9,665.3) rotate(-90) scale(1.004,1.07)" text-anchor="middle"><tspan letter-spacing="0.5">Weight</tspan><tspan dx="-3"> (%)</tspan></text>
<text class="axl" transform="translate(2107.8,663.0) rotate(-90) scale(0.998,1.07)" text-anchor="middle">Deriv<tspan dx="2.2">. Weight</tspan><tspan dx="-2.2"> (%/°C)</tspan></text>
<text class="axl" transform="translate(1093.0,1424.4) scale(0.973,1.07)" text-anchor="middle">Temperature (°C)</text>
<text class="leg" transform="translate(1593.3,110.1) scale(1.0,1.05)" fill="#0000ff">PHB-2BC</text>
<text class="leg" transform="translate(1593.3,174.4) scale(1.0,1.05)" fill="#800080">PHB-2BC-ZnO</text>
<defs><clipPath id="fc"><rect x="1700" y="1340" width="439" height="60"/></clipPath></defs>
<g clip-path="url(#fc)"><text class="foot" y="1382"><tspan x="1773.7">Universal </tspan><tspan x="1902.0">V4.5A </tspan><tspan x="1986.5">TA </tspan><tspan x="2030.5" letter-spacing="0.35">Instrume</tspan></text></g>
</svg>
</body>
</html>
